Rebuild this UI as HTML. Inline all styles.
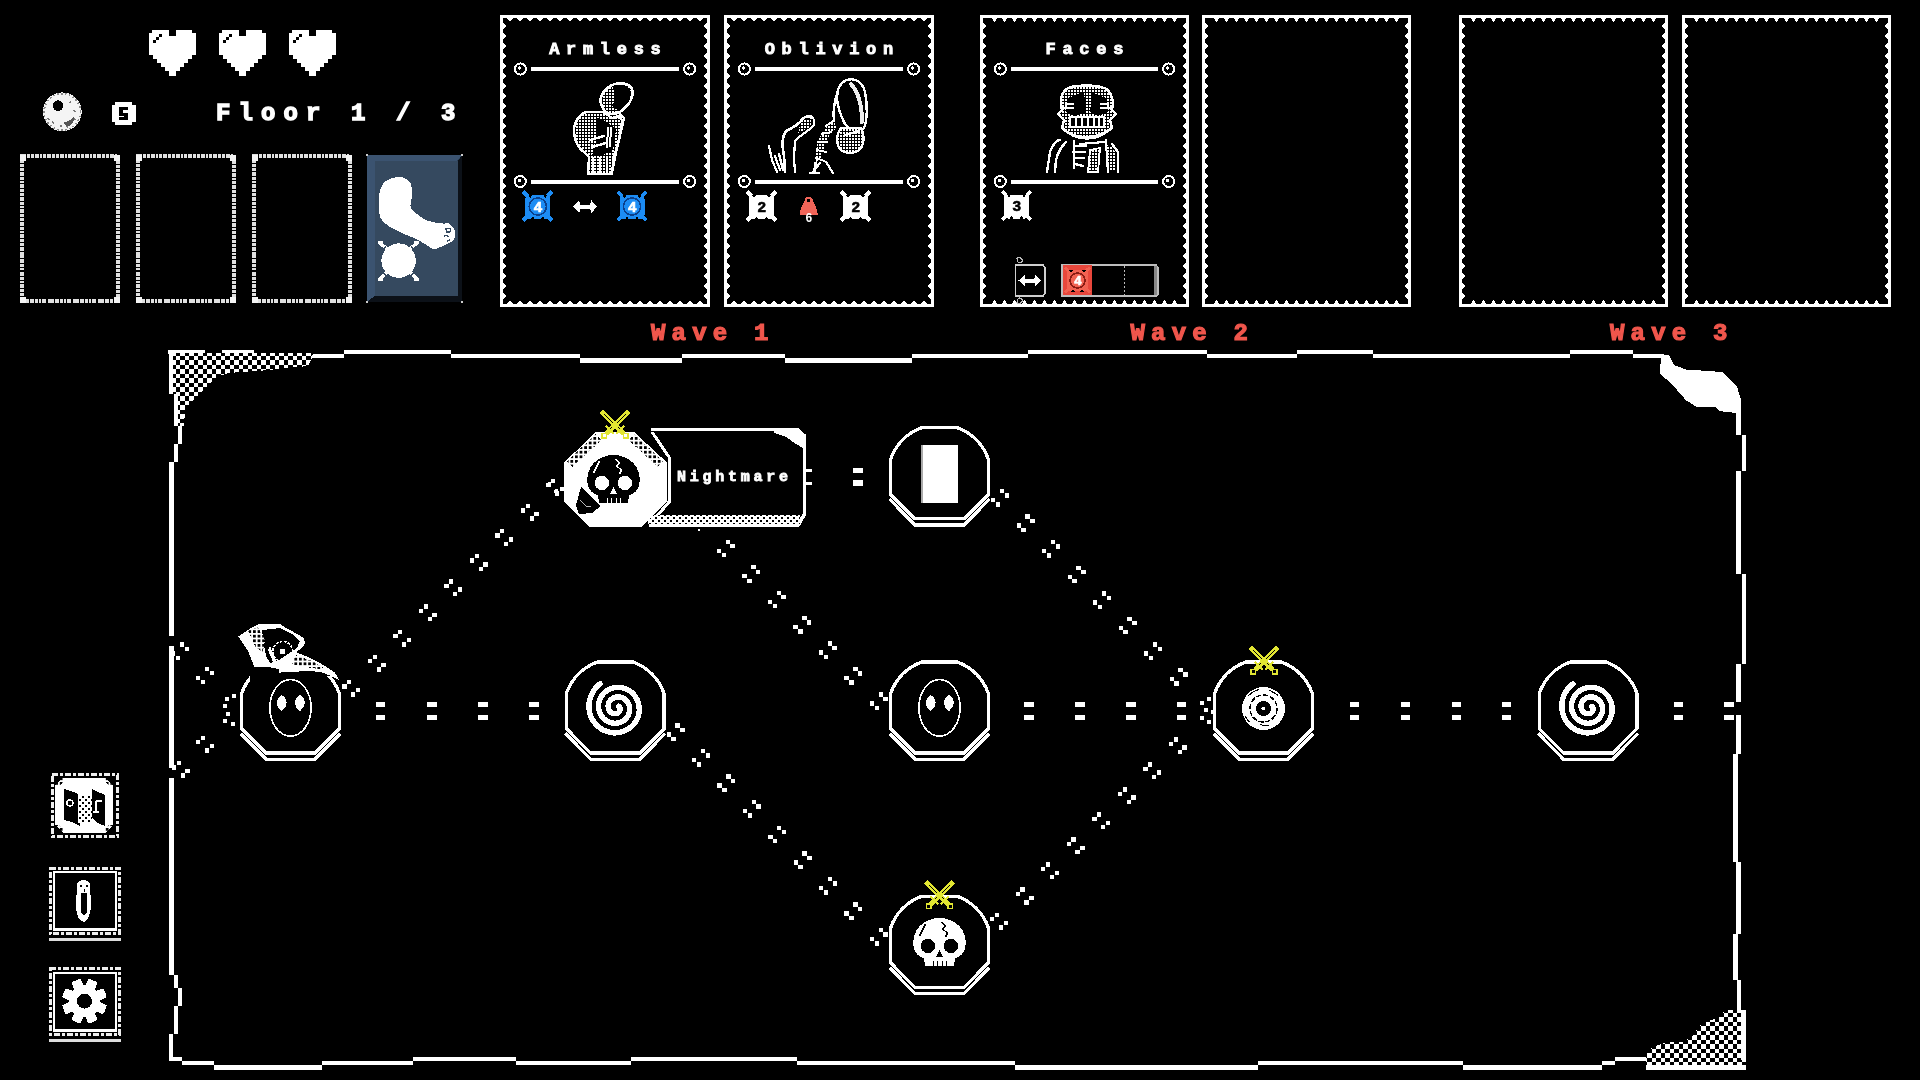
<!DOCTYPE html>
<html><head><meta charset="utf-8"><title>Map</title>
<style>
html,body{margin:0;padding:0;background:#000;width:1920px;height:1080px;overflow:hidden;}
svg{position:absolute;left:0;top:0;display:block;}
text{font-family:"Liberation Mono", monospace;}
svg{will-change:transform;}
</style></head>
<body>
<svg width="1920" height="1080" viewBox="0 0 1920 1080" shape-rendering="crispEdges">
<rect width="1920" height="1080" fill="#000"/>
<path d="M152.0,30.0 L168.5,30.0 L168.5,35.5 L175.5,35.5 L175.5,30.0 L192.0,30.0 L192.0,32.5 L196.0,32.5 L196.0,55.0 L192.0,55.0 L192.0,59.0 L188.0,59.0 L188.0,63.0 L184.0,63.0 L184.0,67.0 L180.0,67.0 L180.0,71.0 L176.0,71.0 L176.0,76.0 L169.0,76.0 L169.0,71.0 L165.0,71.0 L165.0,67.0 L161.0,67.0 L161.0,63.0 L157.0,63.0 L157.0,59.0 L153.0,59.0 L153.0,55.0 L149.0,55.0 L149.0,32.5 L152.0,32.5Z" fill="#fff"/>
<rect x="153.0" y="40.0" width="3.0" height="3.0" fill="#000" />
<rect x="156.0" y="37.0" width="3.0" height="3.0" fill="#000" />
<rect x="159.0" y="34.0" width="3.0" height="3.0" fill="#000" />
<path d="M222.0,30.0 L238.5,30.0 L238.5,35.5 L245.5,35.5 L245.5,30.0 L262.0,30.0 L262.0,32.5 L266.0,32.5 L266.0,55.0 L262.0,55.0 L262.0,59.0 L258.0,59.0 L258.0,63.0 L254.0,63.0 L254.0,67.0 L250.0,67.0 L250.0,71.0 L246.0,71.0 L246.0,76.0 L239.0,76.0 L239.0,71.0 L235.0,71.0 L235.0,67.0 L231.0,67.0 L231.0,63.0 L227.0,63.0 L227.0,59.0 L223.0,59.0 L223.0,55.0 L219.0,55.0 L219.0,32.5 L222.0,32.5Z" fill="#fff"/>
<rect x="223.0" y="40.0" width="3.0" height="3.0" fill="#000" />
<rect x="226.0" y="37.0" width="3.0" height="3.0" fill="#000" />
<rect x="229.0" y="34.0" width="3.0" height="3.0" fill="#000" />
<path d="M292.0,30.0 L308.5,30.0 L308.5,35.5 L315.5,35.5 L315.5,30.0 L332.0,30.0 L332.0,32.5 L336.0,32.5 L336.0,55.0 L332.0,55.0 L332.0,59.0 L328.0,59.0 L328.0,63.0 L324.0,63.0 L324.0,67.0 L320.0,67.0 L320.0,71.0 L316.0,71.0 L316.0,76.0 L309.0,76.0 L309.0,71.0 L305.0,71.0 L305.0,67.0 L301.0,67.0 L301.0,63.0 L297.0,63.0 L297.0,59.0 L293.0,59.0 L293.0,55.0 L289.0,55.0 L289.0,32.5 L292.0,32.5Z" fill="#fff"/>
<rect x="293.0" y="40.0" width="3.0" height="3.0" fill="#000" />
<rect x="296.0" y="37.0" width="3.0" height="3.0" fill="#000" />
<rect x="299.0" y="34.0" width="3.0" height="3.0" fill="#000" />
<circle cx="62.3" cy="111.8" r="19.4" fill="#f4f4f4"/>
<circle cx="62.3" cy="111.8" r="18.2" fill="none" stroke="#8a8a8a" stroke-width="1.8" stroke-dasharray="1.5 2.5"/>
<path d="M70,122 l2,2 M74,118 l1,2 M66,126 l2,1 M60,126 l2,0 M48,118 l1,2 M74,110 l1,2 M70,102 l1,1 M52,122 l2,1" stroke="#777" stroke-width="1.6"/>
<path d="M64,122 q6,0 10,-6 q1,6 -5,10 q-4,1 -5,-4z" fill="#555"/>
<circle cx="58" cy="105.6" r="5.3" fill="#000"/>
<path d="M115,102 H132 V105 H135.5 V121.5 H132 V124.7 H115 V121.5 H112 V105 H115 Z" fill="#fff"/>
<path d="M119,106.5 H127.5 V109.5 H122.5 V112.5 H127.5 V120 H119 V117 H124 V115.5 H119 Z" fill="#000"/>
<text x="216.0" y="120.4" font-family="Liberation Mono" font-size="24" font-weight="bold" fill="#fff" stroke="#fff" stroke-width="1.4" stroke-linejoin="miter" letter-spacing="8.1" text-anchor="start" >Floor 1 / 3</text>
<rect x="22.2" y="156.2" width="95.8" height="145.1" fill="none" stroke="#e0e0e0" stroke-width="3.8" stroke-dasharray="4 1 2.5 0.8 3 1.2"/>
<rect x="20.0" y="154.5" width="6.0" height="6.0" fill="#f4f4f4" />
<rect x="114.0" y="154.5" width="6.0" height="6.0" fill="#f4f4f4" />
<rect x="20.0" y="297.0" width="6.0" height="6.0" fill="#f4f4f4" />
<rect x="114.0" y="297.0" width="6.0" height="6.0" fill="#f4f4f4" />
<rect x="138.2" y="156.2" width="95.8" height="145.1" fill="none" stroke="#e0e0e0" stroke-width="3.8" stroke-dasharray="4 1 2.5 0.8 3 1.2"/>
<rect x="136.0" y="154.5" width="6.0" height="6.0" fill="#f4f4f4" />
<rect x="230.0" y="154.5" width="6.0" height="6.0" fill="#f4f4f4" />
<rect x="136.0" y="297.0" width="6.0" height="6.0" fill="#f4f4f4" />
<rect x="230.0" y="297.0" width="6.0" height="6.0" fill="#f4f4f4" />
<rect x="254.2" y="156.2" width="95.8" height="145.1" fill="none" stroke="#e0e0e0" stroke-width="3.8" stroke-dasharray="4 1 2.5 0.8 3 1.2"/>
<rect x="252.0" y="154.5" width="6.0" height="6.0" fill="#f4f4f4" />
<rect x="346.0" y="154.5" width="6.0" height="6.0" fill="#f4f4f4" />
<rect x="252.0" y="297.0" width="6.0" height="6.0" fill="#f4f4f4" />
<rect x="346.0" y="297.0" width="6.0" height="6.0" fill="#f4f4f4" />
<rect x="367" y="155" width="95" height="147" fill="#2c3f55"/>
<path d="M367,155 L462,155 L457,161 L374.5,161 L374.5,296 L367,302 Z" fill="#3b5370"/>
<rect x="374.5" y="161" width="83.5" height="135" fill="#35495f"/>
<path d="M458,161 L462,155 L462,302 L458,296 Z" fill="#0c1118"/>
<path d="M367,302 L374.5,296 L458,296 L462,302 Z" fill="#0c1118"/>
<circle cx="367" cy="155" r="1.5" fill="#ccc"/>
<circle cx="462" cy="155" r="1.5" fill="#ccc"/>
<circle cx="367" cy="302" r="1.5" fill="#ccc"/>
<circle cx="462" cy="302" r="1.5" fill="#ccc"/>
<path d="M396.7,177.0 C399.8,176.5 402.0,176.9 404.3,177.9 C406.6,178.9 409.2,180.3 410.5,183.2 C411.8,186.1 412.0,191.7 412.0,195.5 C412.0,199.3 410.0,203.4 410.5,206.2 C411.0,209.0 412.2,209.9 415.0,212.3 C417.8,214.7 422.7,218.6 427.3,220.5 C431.9,222.4 439.0,223.0 442.6,223.5 C446.2,224.0 446.7,222.3 448.7,223.5 C450.7,224.7 454.0,227.8 454.8,230.6 C455.6,233.3 455.0,237.7 453.5,240.0 C452.0,242.3 448.6,243.1 446.0,244.4 C443.4,245.7 440.1,247.2 438.0,248.0 C435.9,248.8 436.7,250.3 433.4,249.0 C430.1,247.7 424.1,243.1 418.0,240.0 C411.9,236.9 402.5,233.7 396.7,230.6 C390.9,227.5 385.9,224.8 383.0,221.5 C380.1,218.2 379.5,215.8 379.0,210.7 C378.5,205.6 378.7,195.8 379.9,190.9 C381.1,186.0 383.2,183.3 386.0,181.0 C388.8,178.7 393.6,177.5 396.7,177.0Z" fill="#fff"/>
<path d="M446,229 q3,-2 5,1 q-1,3 -4,2 z M444,236 q3,-1 5,1 M447,241 l3,-1" fill="none" stroke="#35495f" stroke-width="1.4"/>
<circle cx="398.6" cy="260.6" r="17.2" fill="#fff"/>
<path d="M380,243 L387,249 M417,243 L410,249 M380,279 L387,272 M417,279 L410,272" stroke="#fff" stroke-width="3.4"/>
<path d="M377.6,241 h5 v3 h-5z M414,241 h5 v3 h-5z M377.6,278 h5 v3 h-5z M414,278 h5 v3 h-5z" fill="#fff"/>
<path d="M386,246 q-3,3 -4,6 M411,246 q3,3 4,6 M382,270 q1,3 4,6 M415,270 q-1,3 -4,6" stroke="#35495f" stroke-width="1.2" fill="none"/>
<rect x="500.0" y="15.0" width="210.0" height="2.6" fill="#fff" />
<rect x="500.0" y="304.4" width="210.0" height="2.6" fill="#fff" />
<rect x="500.0" y="15.0" width="2.6" height="292.0" fill="#fff" />
<rect x="707.4" y="15.0" width="2.6" height="292.0" fill="#fff" />
<path d="M506.7,17.6L513.3,17.6L510.0,21.8ZM506.7,304.4L513.3,304.4L510.0,300.2ZM516.7,17.6L523.3,17.6L520.0,21.8ZM516.7,304.4L523.3,304.4L520.0,300.2ZM526.7,17.6L533.3,17.6L530.0,21.8ZM526.7,304.4L533.3,304.4L530.0,300.2ZM536.7,17.6L543.3,17.6L540.0,21.8ZM536.7,304.4L543.3,304.4L540.0,300.2ZM546.7,17.6L553.3,17.6L550.0,21.8ZM546.7,304.4L553.3,304.4L550.0,300.2ZM556.7,17.6L563.3,17.6L560.0,21.8ZM556.7,304.4L563.3,304.4L560.0,300.2ZM566.7,17.6L573.3,17.6L570.0,21.8ZM566.7,304.4L573.3,304.4L570.0,300.2ZM576.7,17.6L583.3,17.6L580.0,21.8ZM576.7,304.4L583.3,304.4L580.0,300.2ZM586.7,17.6L593.3,17.6L590.0,21.8ZM586.7,304.4L593.3,304.4L590.0,300.2ZM596.7,17.6L603.3,17.6L600.0,21.8ZM596.7,304.4L603.3,304.4L600.0,300.2ZM606.7,17.6L613.3,17.6L610.0,21.8ZM606.7,304.4L613.3,304.4L610.0,300.2ZM616.7,17.6L623.3,17.6L620.0,21.8ZM616.7,304.4L623.3,304.4L620.0,300.2ZM626.7,17.6L633.3,17.6L630.0,21.8ZM626.7,304.4L633.3,304.4L630.0,300.2ZM636.7,17.6L643.3,17.6L640.0,21.8ZM636.7,304.4L643.3,304.4L640.0,300.2ZM646.7,17.6L653.3,17.6L650.0,21.8ZM646.7,304.4L653.3,304.4L650.0,300.2ZM656.7,17.6L663.3,17.6L660.0,21.8ZM656.7,304.4L663.3,304.4L660.0,300.2ZM666.7,17.6L673.3,17.6L670.0,21.8ZM666.7,304.4L673.3,304.4L670.0,300.2ZM676.7,17.6L683.3,17.6L680.0,21.8ZM676.7,304.4L683.3,304.4L680.0,300.2ZM686.7,17.6L693.3,17.6L690.0,21.8ZM686.7,304.4L693.3,304.4L690.0,300.2ZM696.7,17.6L703.3,17.6L700.0,21.8ZM696.7,304.4L703.3,304.4L700.0,300.2ZM502.6,22.7L502.6,29.3L506.8,26.0ZM707.4,22.7L707.4,29.3L703.2,26.0ZM502.6,32.7L502.6,39.3L506.8,36.0ZM707.4,32.7L707.4,39.3L703.2,36.0ZM502.6,42.7L502.6,49.3L506.8,46.0ZM707.4,42.7L707.4,49.3L703.2,46.0ZM502.6,52.7L502.6,59.3L506.8,56.0ZM707.4,52.7L707.4,59.3L703.2,56.0ZM502.6,62.7L502.6,69.3L506.8,66.0ZM707.4,62.7L707.4,69.3L703.2,66.0ZM502.6,72.7L502.6,79.3L506.8,76.0ZM707.4,72.7L707.4,79.3L703.2,76.0ZM502.6,82.7L502.6,89.3L506.8,86.0ZM707.4,82.7L707.4,89.3L703.2,86.0ZM502.6,92.7L502.6,99.3L506.8,96.0ZM707.4,92.7L707.4,99.3L703.2,96.0ZM502.6,102.7L502.6,109.3L506.8,106.0ZM707.4,102.7L707.4,109.3L703.2,106.0ZM502.6,112.7L502.6,119.3L506.8,116.0ZM707.4,112.7L707.4,119.3L703.2,116.0ZM502.6,122.7L502.6,129.3L506.8,126.0ZM707.4,122.7L707.4,129.3L703.2,126.0ZM502.6,132.7L502.6,139.3L506.8,136.0ZM707.4,132.7L707.4,139.3L703.2,136.0ZM502.6,142.7L502.6,149.3L506.8,146.0ZM707.4,142.7L707.4,149.3L703.2,146.0ZM502.6,152.7L502.6,159.3L506.8,156.0ZM707.4,152.7L707.4,159.3L703.2,156.0ZM502.6,162.7L502.6,169.3L506.8,166.0ZM707.4,162.7L707.4,169.3L703.2,166.0ZM502.6,172.7L502.6,179.3L506.8,176.0ZM707.4,172.7L707.4,179.3L703.2,176.0ZM502.6,182.7L502.6,189.3L506.8,186.0ZM707.4,182.7L707.4,189.3L703.2,186.0ZM502.6,192.7L502.6,199.3L506.8,196.0ZM707.4,192.7L707.4,199.3L703.2,196.0ZM502.6,202.7L502.6,209.3L506.8,206.0ZM707.4,202.7L707.4,209.3L703.2,206.0ZM502.6,212.7L502.6,219.3L506.8,216.0ZM707.4,212.7L707.4,219.3L703.2,216.0ZM502.6,222.7L502.6,229.3L506.8,226.0ZM707.4,222.7L707.4,229.3L703.2,226.0ZM502.6,232.7L502.6,239.3L506.8,236.0ZM707.4,232.7L707.4,239.3L703.2,236.0ZM502.6,242.7L502.6,249.3L506.8,246.0ZM707.4,242.7L707.4,249.3L703.2,246.0ZM502.6,252.7L502.6,259.3L506.8,256.0ZM707.4,252.7L707.4,259.3L703.2,256.0ZM502.6,262.7L502.6,269.3L506.8,266.0ZM707.4,262.7L707.4,269.3L703.2,266.0ZM502.6,272.7L502.6,279.3L506.8,276.0ZM707.4,272.7L707.4,279.3L703.2,276.0ZM502.6,282.7L502.6,289.3L506.8,286.0ZM707.4,282.7L707.4,289.3L703.2,286.0ZM502.6,292.7L502.6,299.3L506.8,296.0ZM707.4,292.7L707.4,299.3L703.2,296.0Z" fill="#fff"/>
<rect x="724.0" y="15.0" width="210.0" height="2.6" fill="#fff" />
<rect x="724.0" y="304.4" width="210.0" height="2.6" fill="#fff" />
<rect x="724.0" y="15.0" width="2.6" height="292.0" fill="#fff" />
<rect x="931.4" y="15.0" width="2.6" height="292.0" fill="#fff" />
<path d="M730.7,17.6L737.3,17.6L734.0,21.8ZM730.7,304.4L737.3,304.4L734.0,300.2ZM740.7,17.6L747.3,17.6L744.0,21.8ZM740.7,304.4L747.3,304.4L744.0,300.2ZM750.7,17.6L757.3,17.6L754.0,21.8ZM750.7,304.4L757.3,304.4L754.0,300.2ZM760.7,17.6L767.3,17.6L764.0,21.8ZM760.7,304.4L767.3,304.4L764.0,300.2ZM770.7,17.6L777.3,17.6L774.0,21.8ZM770.7,304.4L777.3,304.4L774.0,300.2ZM780.7,17.6L787.3,17.6L784.0,21.8ZM780.7,304.4L787.3,304.4L784.0,300.2ZM790.7,17.6L797.3,17.6L794.0,21.8ZM790.7,304.4L797.3,304.4L794.0,300.2ZM800.7,17.6L807.3,17.6L804.0,21.8ZM800.7,304.4L807.3,304.4L804.0,300.2ZM810.7,17.6L817.3,17.6L814.0,21.8ZM810.7,304.4L817.3,304.4L814.0,300.2ZM820.7,17.6L827.3,17.6L824.0,21.8ZM820.7,304.4L827.3,304.4L824.0,300.2ZM830.7,17.6L837.3,17.6L834.0,21.8ZM830.7,304.4L837.3,304.4L834.0,300.2ZM840.7,17.6L847.3,17.6L844.0,21.8ZM840.7,304.4L847.3,304.4L844.0,300.2ZM850.7,17.6L857.3,17.6L854.0,21.8ZM850.7,304.4L857.3,304.4L854.0,300.2ZM860.7,17.6L867.3,17.6L864.0,21.8ZM860.7,304.4L867.3,304.4L864.0,300.2ZM870.7,17.6L877.3,17.6L874.0,21.8ZM870.7,304.4L877.3,304.4L874.0,300.2ZM880.7,17.6L887.3,17.6L884.0,21.8ZM880.7,304.4L887.3,304.4L884.0,300.2ZM890.7,17.6L897.3,17.6L894.0,21.8ZM890.7,304.4L897.3,304.4L894.0,300.2ZM900.7,17.6L907.3,17.6L904.0,21.8ZM900.7,304.4L907.3,304.4L904.0,300.2ZM910.7,17.6L917.3,17.6L914.0,21.8ZM910.7,304.4L917.3,304.4L914.0,300.2ZM920.7,17.6L927.3,17.6L924.0,21.8ZM920.7,304.4L927.3,304.4L924.0,300.2ZM726.6,22.7L726.6,29.3L730.8,26.0ZM931.4,22.7L931.4,29.3L927.2,26.0ZM726.6,32.7L726.6,39.3L730.8,36.0ZM931.4,32.7L931.4,39.3L927.2,36.0ZM726.6,42.7L726.6,49.3L730.8,46.0ZM931.4,42.7L931.4,49.3L927.2,46.0ZM726.6,52.7L726.6,59.3L730.8,56.0ZM931.4,52.7L931.4,59.3L927.2,56.0ZM726.6,62.7L726.6,69.3L730.8,66.0ZM931.4,62.7L931.4,69.3L927.2,66.0ZM726.6,72.7L726.6,79.3L730.8,76.0ZM931.4,72.7L931.4,79.3L927.2,76.0ZM726.6,82.7L726.6,89.3L730.8,86.0ZM931.4,82.7L931.4,89.3L927.2,86.0ZM726.6,92.7L726.6,99.3L730.8,96.0ZM931.4,92.7L931.4,99.3L927.2,96.0ZM726.6,102.7L726.6,109.3L730.8,106.0ZM931.4,102.7L931.4,109.3L927.2,106.0ZM726.6,112.7L726.6,119.3L730.8,116.0ZM931.4,112.7L931.4,119.3L927.2,116.0ZM726.6,122.7L726.6,129.3L730.8,126.0ZM931.4,122.7L931.4,129.3L927.2,126.0ZM726.6,132.7L726.6,139.3L730.8,136.0ZM931.4,132.7L931.4,139.3L927.2,136.0ZM726.6,142.7L726.6,149.3L730.8,146.0ZM931.4,142.7L931.4,149.3L927.2,146.0ZM726.6,152.7L726.6,159.3L730.8,156.0ZM931.4,152.7L931.4,159.3L927.2,156.0ZM726.6,162.7L726.6,169.3L730.8,166.0ZM931.4,162.7L931.4,169.3L927.2,166.0ZM726.6,172.7L726.6,179.3L730.8,176.0ZM931.4,172.7L931.4,179.3L927.2,176.0ZM726.6,182.7L726.6,189.3L730.8,186.0ZM931.4,182.7L931.4,189.3L927.2,186.0ZM726.6,192.7L726.6,199.3L730.8,196.0ZM931.4,192.7L931.4,199.3L927.2,196.0ZM726.6,202.7L726.6,209.3L730.8,206.0ZM931.4,202.7L931.4,209.3L927.2,206.0ZM726.6,212.7L726.6,219.3L730.8,216.0ZM931.4,212.7L931.4,219.3L927.2,216.0ZM726.6,222.7L726.6,229.3L730.8,226.0ZM931.4,222.7L931.4,229.3L927.2,226.0ZM726.6,232.7L726.6,239.3L730.8,236.0ZM931.4,232.7L931.4,239.3L927.2,236.0ZM726.6,242.7L726.6,249.3L730.8,246.0ZM931.4,242.7L931.4,249.3L927.2,246.0ZM726.6,252.7L726.6,259.3L730.8,256.0ZM931.4,252.7L931.4,259.3L927.2,256.0ZM726.6,262.7L726.6,269.3L730.8,266.0ZM931.4,262.7L931.4,269.3L927.2,266.0ZM726.6,272.7L726.6,279.3L730.8,276.0ZM931.4,272.7L931.4,279.3L927.2,276.0ZM726.6,282.7L726.6,289.3L730.8,286.0ZM931.4,282.7L931.4,289.3L927.2,286.0ZM726.6,292.7L726.6,299.3L730.8,296.0ZM931.4,292.7L931.4,299.3L927.2,296.0Z" fill="#fff"/>
<rect x="980.0" y="15.0" width="209.0" height="2.6" fill="#fff" />
<rect x="980.0" y="304.4" width="209.0" height="2.6" fill="#fff" />
<rect x="980.0" y="15.0" width="2.6" height="292.0" fill="#fff" />
<rect x="1186.4" y="15.0" width="2.6" height="292.0" fill="#fff" />
<path d="M991.2,17.6L997.8,17.6L994.5,21.8ZM991.2,304.4L997.8,304.4L994.5,300.2ZM1001.2,17.6L1007.8,17.6L1004.5,21.8ZM1001.2,304.4L1007.8,304.4L1004.5,300.2ZM1011.2,17.6L1017.8,17.6L1014.5,21.8ZM1011.2,304.4L1017.8,304.4L1014.5,300.2ZM1021.2,17.6L1027.8,17.6L1024.5,21.8ZM1021.2,304.4L1027.8,304.4L1024.5,300.2ZM1031.2,17.6L1037.8,17.6L1034.5,21.8ZM1031.2,304.4L1037.8,304.4L1034.5,300.2ZM1041.2,17.6L1047.8,17.6L1044.5,21.8ZM1041.2,304.4L1047.8,304.4L1044.5,300.2ZM1051.2,17.6L1057.8,17.6L1054.5,21.8ZM1051.2,304.4L1057.8,304.4L1054.5,300.2ZM1061.2,17.6L1067.8,17.6L1064.5,21.8ZM1061.2,304.4L1067.8,304.4L1064.5,300.2ZM1071.2,17.6L1077.8,17.6L1074.5,21.8ZM1071.2,304.4L1077.8,304.4L1074.5,300.2ZM1081.2,17.6L1087.8,17.6L1084.5,21.8ZM1081.2,304.4L1087.8,304.4L1084.5,300.2ZM1091.2,17.6L1097.8,17.6L1094.5,21.8ZM1091.2,304.4L1097.8,304.4L1094.5,300.2ZM1101.2,17.6L1107.8,17.6L1104.5,21.8ZM1101.2,304.4L1107.8,304.4L1104.5,300.2ZM1111.2,17.6L1117.8,17.6L1114.5,21.8ZM1111.2,304.4L1117.8,304.4L1114.5,300.2ZM1121.2,17.6L1127.8,17.6L1124.5,21.8ZM1121.2,304.4L1127.8,304.4L1124.5,300.2ZM1131.2,17.6L1137.8,17.6L1134.5,21.8ZM1131.2,304.4L1137.8,304.4L1134.5,300.2ZM1141.2,17.6L1147.8,17.6L1144.5,21.8ZM1141.2,304.4L1147.8,304.4L1144.5,300.2ZM1151.2,17.6L1157.8,17.6L1154.5,21.8ZM1151.2,304.4L1157.8,304.4L1154.5,300.2ZM1161.2,17.6L1167.8,17.6L1164.5,21.8ZM1161.2,304.4L1167.8,304.4L1164.5,300.2ZM1171.2,17.6L1177.8,17.6L1174.5,21.8ZM1171.2,304.4L1177.8,304.4L1174.5,300.2ZM982.6,22.7L982.6,29.3L986.8,26.0ZM1186.4,22.7L1186.4,29.3L1182.2,26.0ZM982.6,32.7L982.6,39.3L986.8,36.0ZM1186.4,32.7L1186.4,39.3L1182.2,36.0ZM982.6,42.7L982.6,49.3L986.8,46.0ZM1186.4,42.7L1186.4,49.3L1182.2,46.0ZM982.6,52.7L982.6,59.3L986.8,56.0ZM1186.4,52.7L1186.4,59.3L1182.2,56.0ZM982.6,62.7L982.6,69.3L986.8,66.0ZM1186.4,62.7L1186.4,69.3L1182.2,66.0ZM982.6,72.7L982.6,79.3L986.8,76.0ZM1186.4,72.7L1186.4,79.3L1182.2,76.0ZM982.6,82.7L982.6,89.3L986.8,86.0ZM1186.4,82.7L1186.4,89.3L1182.2,86.0ZM982.6,92.7L982.6,99.3L986.8,96.0ZM1186.4,92.7L1186.4,99.3L1182.2,96.0ZM982.6,102.7L982.6,109.3L986.8,106.0ZM1186.4,102.7L1186.4,109.3L1182.2,106.0ZM982.6,112.7L982.6,119.3L986.8,116.0ZM1186.4,112.7L1186.4,119.3L1182.2,116.0ZM982.6,122.7L982.6,129.3L986.8,126.0ZM1186.4,122.7L1186.4,129.3L1182.2,126.0ZM982.6,132.7L982.6,139.3L986.8,136.0ZM1186.4,132.7L1186.4,139.3L1182.2,136.0ZM982.6,142.7L982.6,149.3L986.8,146.0ZM1186.4,142.7L1186.4,149.3L1182.2,146.0ZM982.6,152.7L982.6,159.3L986.8,156.0ZM1186.4,152.7L1186.4,159.3L1182.2,156.0ZM982.6,162.7L982.6,169.3L986.8,166.0ZM1186.4,162.7L1186.4,169.3L1182.2,166.0ZM982.6,172.7L982.6,179.3L986.8,176.0ZM1186.4,172.7L1186.4,179.3L1182.2,176.0ZM982.6,182.7L982.6,189.3L986.8,186.0ZM1186.4,182.7L1186.4,189.3L1182.2,186.0ZM982.6,192.7L982.6,199.3L986.8,196.0ZM1186.4,192.7L1186.4,199.3L1182.2,196.0ZM982.6,202.7L982.6,209.3L986.8,206.0ZM1186.4,202.7L1186.4,209.3L1182.2,206.0ZM982.6,212.7L982.6,219.3L986.8,216.0ZM1186.4,212.7L1186.4,219.3L1182.2,216.0ZM982.6,222.7L982.6,229.3L986.8,226.0ZM1186.4,222.7L1186.4,229.3L1182.2,226.0ZM982.6,232.7L982.6,239.3L986.8,236.0ZM1186.4,232.7L1186.4,239.3L1182.2,236.0ZM982.6,242.7L982.6,249.3L986.8,246.0ZM1186.4,242.7L1186.4,249.3L1182.2,246.0ZM982.6,252.7L982.6,259.3L986.8,256.0ZM1186.4,252.7L1186.4,259.3L1182.2,256.0ZM982.6,262.7L982.6,269.3L986.8,266.0ZM1186.4,262.7L1186.4,269.3L1182.2,266.0ZM982.6,272.7L982.6,279.3L986.8,276.0ZM1186.4,272.7L1186.4,279.3L1182.2,276.0ZM982.6,282.7L982.6,289.3L986.8,286.0ZM1186.4,282.7L1186.4,289.3L1182.2,286.0ZM982.6,292.7L982.6,299.3L986.8,296.0ZM1186.4,292.7L1186.4,299.3L1182.2,296.0Z" fill="#fff"/>
<rect x="1202.0" y="15.0" width="209.0" height="2.6" fill="#fff" />
<rect x="1202.0" y="304.4" width="209.0" height="2.6" fill="#fff" />
<rect x="1202.0" y="15.0" width="2.6" height="292.0" fill="#fff" />
<rect x="1408.4" y="15.0" width="2.6" height="292.0" fill="#fff" />
<path d="M1213.2,17.6L1219.8,17.6L1216.5,21.8ZM1213.2,304.4L1219.8,304.4L1216.5,300.2ZM1223.2,17.6L1229.8,17.6L1226.5,21.8ZM1223.2,304.4L1229.8,304.4L1226.5,300.2ZM1233.2,17.6L1239.8,17.6L1236.5,21.8ZM1233.2,304.4L1239.8,304.4L1236.5,300.2ZM1243.2,17.6L1249.8,17.6L1246.5,21.8ZM1243.2,304.4L1249.8,304.4L1246.5,300.2ZM1253.2,17.6L1259.8,17.6L1256.5,21.8ZM1253.2,304.4L1259.8,304.4L1256.5,300.2ZM1263.2,17.6L1269.8,17.6L1266.5,21.8ZM1263.2,304.4L1269.8,304.4L1266.5,300.2ZM1273.2,17.6L1279.8,17.6L1276.5,21.8ZM1273.2,304.4L1279.8,304.4L1276.5,300.2ZM1283.2,17.6L1289.8,17.6L1286.5,21.8ZM1283.2,304.4L1289.8,304.4L1286.5,300.2ZM1293.2,17.6L1299.8,17.6L1296.5,21.8ZM1293.2,304.4L1299.8,304.4L1296.5,300.2ZM1303.2,17.6L1309.8,17.6L1306.5,21.8ZM1303.2,304.4L1309.8,304.4L1306.5,300.2ZM1313.2,17.6L1319.8,17.6L1316.5,21.8ZM1313.2,304.4L1319.8,304.4L1316.5,300.2ZM1323.2,17.6L1329.8,17.6L1326.5,21.8ZM1323.2,304.4L1329.8,304.4L1326.5,300.2ZM1333.2,17.6L1339.8,17.6L1336.5,21.8ZM1333.2,304.4L1339.8,304.4L1336.5,300.2ZM1343.2,17.6L1349.8,17.6L1346.5,21.8ZM1343.2,304.4L1349.8,304.4L1346.5,300.2ZM1353.2,17.6L1359.8,17.6L1356.5,21.8ZM1353.2,304.4L1359.8,304.4L1356.5,300.2ZM1363.2,17.6L1369.8,17.6L1366.5,21.8ZM1363.2,304.4L1369.8,304.4L1366.5,300.2ZM1373.2,17.6L1379.8,17.6L1376.5,21.8ZM1373.2,304.4L1379.8,304.4L1376.5,300.2ZM1383.2,17.6L1389.8,17.6L1386.5,21.8ZM1383.2,304.4L1389.8,304.4L1386.5,300.2ZM1393.2,17.6L1399.8,17.6L1396.5,21.8ZM1393.2,304.4L1399.8,304.4L1396.5,300.2ZM1204.6,22.7L1204.6,29.3L1208.8,26.0ZM1408.4,22.7L1408.4,29.3L1404.2,26.0ZM1204.6,32.7L1204.6,39.3L1208.8,36.0ZM1408.4,32.7L1408.4,39.3L1404.2,36.0ZM1204.6,42.7L1204.6,49.3L1208.8,46.0ZM1408.4,42.7L1408.4,49.3L1404.2,46.0ZM1204.6,52.7L1204.6,59.3L1208.8,56.0ZM1408.4,52.7L1408.4,59.3L1404.2,56.0ZM1204.6,62.7L1204.6,69.3L1208.8,66.0ZM1408.4,62.7L1408.4,69.3L1404.2,66.0ZM1204.6,72.7L1204.6,79.3L1208.8,76.0ZM1408.4,72.7L1408.4,79.3L1404.2,76.0ZM1204.6,82.7L1204.6,89.3L1208.8,86.0ZM1408.4,82.7L1408.4,89.3L1404.2,86.0ZM1204.6,92.7L1204.6,99.3L1208.8,96.0ZM1408.4,92.7L1408.4,99.3L1404.2,96.0ZM1204.6,102.7L1204.6,109.3L1208.8,106.0ZM1408.4,102.7L1408.4,109.3L1404.2,106.0ZM1204.6,112.7L1204.6,119.3L1208.8,116.0ZM1408.4,112.7L1408.4,119.3L1404.2,116.0ZM1204.6,122.7L1204.6,129.3L1208.8,126.0ZM1408.4,122.7L1408.4,129.3L1404.2,126.0ZM1204.6,132.7L1204.6,139.3L1208.8,136.0ZM1408.4,132.7L1408.4,139.3L1404.2,136.0ZM1204.6,142.7L1204.6,149.3L1208.8,146.0ZM1408.4,142.7L1408.4,149.3L1404.2,146.0ZM1204.6,152.7L1204.6,159.3L1208.8,156.0ZM1408.4,152.7L1408.4,159.3L1404.2,156.0ZM1204.6,162.7L1204.6,169.3L1208.8,166.0ZM1408.4,162.7L1408.4,169.3L1404.2,166.0ZM1204.6,172.7L1204.6,179.3L1208.8,176.0ZM1408.4,172.7L1408.4,179.3L1404.2,176.0ZM1204.6,182.7L1204.6,189.3L1208.8,186.0ZM1408.4,182.7L1408.4,189.3L1404.2,186.0ZM1204.6,192.7L1204.6,199.3L1208.8,196.0ZM1408.4,192.7L1408.4,199.3L1404.2,196.0ZM1204.6,202.7L1204.6,209.3L1208.8,206.0ZM1408.4,202.7L1408.4,209.3L1404.2,206.0ZM1204.6,212.7L1204.6,219.3L1208.8,216.0ZM1408.4,212.7L1408.4,219.3L1404.2,216.0ZM1204.6,222.7L1204.6,229.3L1208.8,226.0ZM1408.4,222.7L1408.4,229.3L1404.2,226.0ZM1204.6,232.7L1204.6,239.3L1208.8,236.0ZM1408.4,232.7L1408.4,239.3L1404.2,236.0ZM1204.6,242.7L1204.6,249.3L1208.8,246.0ZM1408.4,242.7L1408.4,249.3L1404.2,246.0ZM1204.6,252.7L1204.6,259.3L1208.8,256.0ZM1408.4,252.7L1408.4,259.3L1404.2,256.0ZM1204.6,262.7L1204.6,269.3L1208.8,266.0ZM1408.4,262.7L1408.4,269.3L1404.2,266.0ZM1204.6,272.7L1204.6,279.3L1208.8,276.0ZM1408.4,272.7L1408.4,279.3L1404.2,276.0ZM1204.6,282.7L1204.6,289.3L1208.8,286.0ZM1408.4,282.7L1408.4,289.3L1404.2,286.0ZM1204.6,292.7L1204.6,299.3L1208.8,296.0ZM1408.4,292.7L1408.4,299.3L1404.2,296.0Z" fill="#fff"/>
<rect x="1459.0" y="15.0" width="209.0" height="2.6" fill="#fff" />
<rect x="1459.0" y="304.4" width="209.0" height="2.6" fill="#fff" />
<rect x="1459.0" y="15.0" width="2.6" height="292.0" fill="#fff" />
<rect x="1665.4" y="15.0" width="2.6" height="292.0" fill="#fff" />
<path d="M1470.2,17.6L1476.8,17.6L1473.5,21.8ZM1470.2,304.4L1476.8,304.4L1473.5,300.2ZM1480.2,17.6L1486.8,17.6L1483.5,21.8ZM1480.2,304.4L1486.8,304.4L1483.5,300.2ZM1490.2,17.6L1496.8,17.6L1493.5,21.8ZM1490.2,304.4L1496.8,304.4L1493.5,300.2ZM1500.2,17.6L1506.8,17.6L1503.5,21.8ZM1500.2,304.4L1506.8,304.4L1503.5,300.2ZM1510.2,17.6L1516.8,17.6L1513.5,21.8ZM1510.2,304.4L1516.8,304.4L1513.5,300.2ZM1520.2,17.6L1526.8,17.6L1523.5,21.8ZM1520.2,304.4L1526.8,304.4L1523.5,300.2ZM1530.2,17.6L1536.8,17.6L1533.5,21.8ZM1530.2,304.4L1536.8,304.4L1533.5,300.2ZM1540.2,17.6L1546.8,17.6L1543.5,21.8ZM1540.2,304.4L1546.8,304.4L1543.5,300.2ZM1550.2,17.6L1556.8,17.6L1553.5,21.8ZM1550.2,304.4L1556.8,304.4L1553.5,300.2ZM1560.2,17.6L1566.8,17.6L1563.5,21.8ZM1560.2,304.4L1566.8,304.4L1563.5,300.2ZM1570.2,17.6L1576.8,17.6L1573.5,21.8ZM1570.2,304.4L1576.8,304.4L1573.5,300.2ZM1580.2,17.6L1586.8,17.6L1583.5,21.8ZM1580.2,304.4L1586.8,304.4L1583.5,300.2ZM1590.2,17.6L1596.8,17.6L1593.5,21.8ZM1590.2,304.4L1596.8,304.4L1593.5,300.2ZM1600.2,17.6L1606.8,17.6L1603.5,21.8ZM1600.2,304.4L1606.8,304.4L1603.5,300.2ZM1610.2,17.6L1616.8,17.6L1613.5,21.8ZM1610.2,304.4L1616.8,304.4L1613.5,300.2ZM1620.2,17.6L1626.8,17.6L1623.5,21.8ZM1620.2,304.4L1626.8,304.4L1623.5,300.2ZM1630.2,17.6L1636.8,17.6L1633.5,21.8ZM1630.2,304.4L1636.8,304.4L1633.5,300.2ZM1640.2,17.6L1646.8,17.6L1643.5,21.8ZM1640.2,304.4L1646.8,304.4L1643.5,300.2ZM1650.2,17.6L1656.8,17.6L1653.5,21.8ZM1650.2,304.4L1656.8,304.4L1653.5,300.2ZM1461.6,22.7L1461.6,29.3L1465.8,26.0ZM1665.4,22.7L1665.4,29.3L1661.2,26.0ZM1461.6,32.7L1461.6,39.3L1465.8,36.0ZM1665.4,32.7L1665.4,39.3L1661.2,36.0ZM1461.6,42.7L1461.6,49.3L1465.8,46.0ZM1665.4,42.7L1665.4,49.3L1661.2,46.0ZM1461.6,52.7L1461.6,59.3L1465.8,56.0ZM1665.4,52.7L1665.4,59.3L1661.2,56.0ZM1461.6,62.7L1461.6,69.3L1465.8,66.0ZM1665.4,62.7L1665.4,69.3L1661.2,66.0ZM1461.6,72.7L1461.6,79.3L1465.8,76.0ZM1665.4,72.7L1665.4,79.3L1661.2,76.0ZM1461.6,82.7L1461.6,89.3L1465.8,86.0ZM1665.4,82.7L1665.4,89.3L1661.2,86.0ZM1461.6,92.7L1461.6,99.3L1465.8,96.0ZM1665.4,92.7L1665.4,99.3L1661.2,96.0ZM1461.6,102.7L1461.6,109.3L1465.8,106.0ZM1665.4,102.7L1665.4,109.3L1661.2,106.0ZM1461.6,112.7L1461.6,119.3L1465.8,116.0ZM1665.4,112.7L1665.4,119.3L1661.2,116.0ZM1461.6,122.7L1461.6,129.3L1465.8,126.0ZM1665.4,122.7L1665.4,129.3L1661.2,126.0ZM1461.6,132.7L1461.6,139.3L1465.8,136.0ZM1665.4,132.7L1665.4,139.3L1661.2,136.0ZM1461.6,142.7L1461.6,149.3L1465.8,146.0ZM1665.4,142.7L1665.4,149.3L1661.2,146.0ZM1461.6,152.7L1461.6,159.3L1465.8,156.0ZM1665.4,152.7L1665.4,159.3L1661.2,156.0ZM1461.6,162.7L1461.6,169.3L1465.8,166.0ZM1665.4,162.7L1665.4,169.3L1661.2,166.0ZM1461.6,172.7L1461.6,179.3L1465.8,176.0ZM1665.4,172.7L1665.4,179.3L1661.2,176.0ZM1461.6,182.7L1461.6,189.3L1465.8,186.0ZM1665.4,182.7L1665.4,189.3L1661.2,186.0ZM1461.6,192.7L1461.6,199.3L1465.8,196.0ZM1665.4,192.7L1665.4,199.3L1661.2,196.0ZM1461.6,202.7L1461.6,209.3L1465.8,206.0ZM1665.4,202.7L1665.4,209.3L1661.2,206.0ZM1461.6,212.7L1461.6,219.3L1465.8,216.0ZM1665.4,212.7L1665.4,219.3L1661.2,216.0ZM1461.6,222.7L1461.6,229.3L1465.8,226.0ZM1665.4,222.7L1665.4,229.3L1661.2,226.0ZM1461.6,232.7L1461.6,239.3L1465.8,236.0ZM1665.4,232.7L1665.4,239.3L1661.2,236.0ZM1461.6,242.7L1461.6,249.3L1465.8,246.0ZM1665.4,242.7L1665.4,249.3L1661.2,246.0ZM1461.6,252.7L1461.6,259.3L1465.8,256.0ZM1665.4,252.7L1665.4,259.3L1661.2,256.0ZM1461.6,262.7L1461.6,269.3L1465.8,266.0ZM1665.4,262.7L1665.4,269.3L1661.2,266.0ZM1461.6,272.7L1461.6,279.3L1465.8,276.0ZM1665.4,272.7L1665.4,279.3L1661.2,276.0ZM1461.6,282.7L1461.6,289.3L1465.8,286.0ZM1665.4,282.7L1665.4,289.3L1661.2,286.0ZM1461.6,292.7L1461.6,299.3L1465.8,296.0ZM1665.4,292.7L1665.4,299.3L1661.2,296.0Z" fill="#fff"/>
<rect x="1682.0" y="15.0" width="209.0" height="2.6" fill="#fff" />
<rect x="1682.0" y="304.4" width="209.0" height="2.6" fill="#fff" />
<rect x="1682.0" y="15.0" width="2.6" height="292.0" fill="#fff" />
<rect x="1888.4" y="15.0" width="2.6" height="292.0" fill="#fff" />
<path d="M1693.2,17.6L1699.8,17.6L1696.5,21.8ZM1693.2,304.4L1699.8,304.4L1696.5,300.2ZM1703.2,17.6L1709.8,17.6L1706.5,21.8ZM1703.2,304.4L1709.8,304.4L1706.5,300.2ZM1713.2,17.6L1719.8,17.6L1716.5,21.8ZM1713.2,304.4L1719.8,304.4L1716.5,300.2ZM1723.2,17.6L1729.8,17.6L1726.5,21.8ZM1723.2,304.4L1729.8,304.4L1726.5,300.2ZM1733.2,17.6L1739.8,17.6L1736.5,21.8ZM1733.2,304.4L1739.8,304.4L1736.5,300.2ZM1743.2,17.6L1749.8,17.6L1746.5,21.8ZM1743.2,304.4L1749.8,304.4L1746.5,300.2ZM1753.2,17.6L1759.8,17.6L1756.5,21.8ZM1753.2,304.4L1759.8,304.4L1756.5,300.2ZM1763.2,17.6L1769.8,17.6L1766.5,21.8ZM1763.2,304.4L1769.8,304.4L1766.5,300.2ZM1773.2,17.6L1779.8,17.6L1776.5,21.8ZM1773.2,304.4L1779.8,304.4L1776.5,300.2ZM1783.2,17.6L1789.8,17.6L1786.5,21.8ZM1783.2,304.4L1789.8,304.4L1786.5,300.2ZM1793.2,17.6L1799.8,17.6L1796.5,21.8ZM1793.2,304.4L1799.8,304.4L1796.5,300.2ZM1803.2,17.6L1809.8,17.6L1806.5,21.8ZM1803.2,304.4L1809.8,304.4L1806.5,300.2ZM1813.2,17.6L1819.8,17.6L1816.5,21.8ZM1813.2,304.4L1819.8,304.4L1816.5,300.2ZM1823.2,17.6L1829.8,17.6L1826.5,21.8ZM1823.2,304.4L1829.8,304.4L1826.5,300.2ZM1833.2,17.6L1839.8,17.6L1836.5,21.8ZM1833.2,304.4L1839.8,304.4L1836.5,300.2ZM1843.2,17.6L1849.8,17.6L1846.5,21.8ZM1843.2,304.4L1849.8,304.4L1846.5,300.2ZM1853.2,17.6L1859.8,17.6L1856.5,21.8ZM1853.2,304.4L1859.8,304.4L1856.5,300.2ZM1863.2,17.6L1869.8,17.6L1866.5,21.8ZM1863.2,304.4L1869.8,304.4L1866.5,300.2ZM1873.2,17.6L1879.8,17.6L1876.5,21.8ZM1873.2,304.4L1879.8,304.4L1876.5,300.2ZM1684.6,22.7L1684.6,29.3L1688.8,26.0ZM1888.4,22.7L1888.4,29.3L1884.2,26.0ZM1684.6,32.7L1684.6,39.3L1688.8,36.0ZM1888.4,32.7L1888.4,39.3L1884.2,36.0ZM1684.6,42.7L1684.6,49.3L1688.8,46.0ZM1888.4,42.7L1888.4,49.3L1884.2,46.0ZM1684.6,52.7L1684.6,59.3L1688.8,56.0ZM1888.4,52.7L1888.4,59.3L1884.2,56.0ZM1684.6,62.7L1684.6,69.3L1688.8,66.0ZM1888.4,62.7L1888.4,69.3L1884.2,66.0ZM1684.6,72.7L1684.6,79.3L1688.8,76.0ZM1888.4,72.7L1888.4,79.3L1884.2,76.0ZM1684.6,82.7L1684.6,89.3L1688.8,86.0ZM1888.4,82.7L1888.4,89.3L1884.2,86.0ZM1684.6,92.7L1684.6,99.3L1688.8,96.0ZM1888.4,92.7L1888.4,99.3L1884.2,96.0ZM1684.6,102.7L1684.6,109.3L1688.8,106.0ZM1888.4,102.7L1888.4,109.3L1884.2,106.0ZM1684.6,112.7L1684.6,119.3L1688.8,116.0ZM1888.4,112.7L1888.4,119.3L1884.2,116.0ZM1684.6,122.7L1684.6,129.3L1688.8,126.0ZM1888.4,122.7L1888.4,129.3L1884.2,126.0ZM1684.6,132.7L1684.6,139.3L1688.8,136.0ZM1888.4,132.7L1888.4,139.3L1884.2,136.0ZM1684.6,142.7L1684.6,149.3L1688.8,146.0ZM1888.4,142.7L1888.4,149.3L1884.2,146.0ZM1684.6,152.7L1684.6,159.3L1688.8,156.0ZM1888.4,152.7L1888.4,159.3L1884.2,156.0ZM1684.6,162.7L1684.6,169.3L1688.8,166.0ZM1888.4,162.7L1888.4,169.3L1884.2,166.0ZM1684.6,172.7L1684.6,179.3L1688.8,176.0ZM1888.4,172.7L1888.4,179.3L1884.2,176.0ZM1684.6,182.7L1684.6,189.3L1688.8,186.0ZM1888.4,182.7L1888.4,189.3L1884.2,186.0ZM1684.6,192.7L1684.6,199.3L1688.8,196.0ZM1888.4,192.7L1888.4,199.3L1884.2,196.0ZM1684.6,202.7L1684.6,209.3L1688.8,206.0ZM1888.4,202.7L1888.4,209.3L1884.2,206.0ZM1684.6,212.7L1684.6,219.3L1688.8,216.0ZM1888.4,212.7L1888.4,219.3L1884.2,216.0ZM1684.6,222.7L1684.6,229.3L1688.8,226.0ZM1888.4,222.7L1888.4,229.3L1884.2,226.0ZM1684.6,232.7L1684.6,239.3L1688.8,236.0ZM1888.4,232.7L1888.4,239.3L1884.2,236.0ZM1684.6,242.7L1684.6,249.3L1688.8,246.0ZM1888.4,242.7L1888.4,249.3L1884.2,246.0ZM1684.6,252.7L1684.6,259.3L1688.8,256.0ZM1888.4,252.7L1888.4,259.3L1884.2,256.0ZM1684.6,262.7L1684.6,269.3L1688.8,266.0ZM1888.4,262.7L1888.4,269.3L1884.2,266.0ZM1684.6,272.7L1684.6,279.3L1688.8,276.0ZM1888.4,272.7L1888.4,279.3L1884.2,276.0ZM1684.6,282.7L1684.6,289.3L1688.8,286.0ZM1888.4,282.7L1888.4,289.3L1884.2,286.0ZM1684.6,292.7L1684.6,299.3L1688.8,296.0ZM1888.4,292.7L1888.4,299.3L1884.2,296.0Z" fill="#fff"/>
<text x="608.3" y="53.5" font-family="Liberation Mono" font-size="17" font-weight="bold" fill="#fff" stroke="#fff" stroke-width="0.9" stroke-linejoin="miter" letter-spacing="6.7" text-anchor="middle" >Armless</text>
<circle cx="520.3" cy="69.0" r="5.6" fill="none" stroke="#fff" stroke-width="2"/>
<circle cx="519.3" cy="68.0" r="1.6" fill="#fff"/>
<circle cx="689.7" cy="69.0" r="5.6" fill="none" stroke="#fff" stroke-width="2"/>
<circle cx="688.7" cy="68.0" r="1.6" fill="#fff"/>
<rect x="531.3" y="67.0" width="147.4" height="4.0" fill="#fff" />
<circle cx="520.3" cy="181.5" r="5.6" fill="none" stroke="#fff" stroke-width="2"/>
<circle cx="519.3" cy="180.5" r="1.6" fill="#fff"/>
<circle cx="689.7" cy="181.5" r="5.6" fill="none" stroke="#fff" stroke-width="2"/>
<circle cx="688.7" cy="180.5" r="1.6" fill="#fff"/>
<rect x="531.3" y="179.5" width="147.4" height="4.0" fill="#fff" />
<text x="832.3" y="53.5" font-family="Liberation Mono" font-size="17" font-weight="bold" fill="#fff" stroke="#fff" stroke-width="0.9" stroke-linejoin="miter" letter-spacing="6.7" text-anchor="middle" >Oblivion</text>
<circle cx="744.3" cy="69.0" r="5.6" fill="none" stroke="#fff" stroke-width="2"/>
<circle cx="743.3" cy="68.0" r="1.6" fill="#fff"/>
<circle cx="913.7" cy="69.0" r="5.6" fill="none" stroke="#fff" stroke-width="2"/>
<circle cx="912.7" cy="68.0" r="1.6" fill="#fff"/>
<rect x="755.3" y="67.0" width="147.4" height="4.0" fill="#fff" />
<circle cx="744.3" cy="181.5" r="5.6" fill="none" stroke="#fff" stroke-width="2"/>
<circle cx="743.3" cy="180.5" r="1.6" fill="#fff"/>
<circle cx="913.7" cy="181.5" r="5.6" fill="none" stroke="#fff" stroke-width="2"/>
<circle cx="912.7" cy="180.5" r="1.6" fill="#fff"/>
<rect x="755.3" y="179.5" width="147.4" height="4.0" fill="#fff" />
<text x="1087.8" y="53.5" font-family="Liberation Mono" font-size="17" font-weight="bold" fill="#fff" stroke="#fff" stroke-width="0.9" stroke-linejoin="miter" letter-spacing="6.7" text-anchor="middle" >Faces</text>
<circle cx="1000.3" cy="69.0" r="5.6" fill="none" stroke="#fff" stroke-width="2"/>
<circle cx="999.3" cy="68.0" r="1.6" fill="#fff"/>
<circle cx="1168.7" cy="69.0" r="5.6" fill="none" stroke="#fff" stroke-width="2"/>
<circle cx="1167.7" cy="68.0" r="1.6" fill="#fff"/>
<rect x="1011.3" y="67.0" width="146.4" height="4.0" fill="#fff" />
<circle cx="1000.3" cy="181.5" r="5.6" fill="none" stroke="#fff" stroke-width="2"/>
<circle cx="999.3" cy="180.5" r="1.6" fill="#fff"/>
<circle cx="1168.7" cy="181.5" r="5.6" fill="none" stroke="#fff" stroke-width="2"/>
<circle cx="1167.7" cy="180.5" r="1.6" fill="#fff"/>
<rect x="1011.3" y="179.5" width="146.4" height="4.0" fill="#fff" />
<text x="651.0" y="340.0" font-family="Liberation Mono" font-size="24" font-weight="bold" fill="#f0564c" stroke="#f0564c" stroke-width="1.2" stroke-linejoin="miter" letter-spacing="6.2" text-anchor="start" >Wave 1</text>
<text x="1130.5" y="340.0" font-family="Liberation Mono" font-size="24" font-weight="bold" fill="#f0564c" stroke="#f0564c" stroke-width="1.2" stroke-linejoin="miter" letter-spacing="6.2" text-anchor="start" >Wave 2</text>
<text x="1610.0" y="340.0" font-family="Liberation Mono" font-size="24" font-weight="bold" fill="#f0564c" stroke="#f0564c" stroke-width="1.2" stroke-linejoin="miter" letter-spacing="6.2" text-anchor="start" >Wave 3</text>
<rect x="525.3" y="195.0" width="25.0" height="24.0" rx="4.0" fill="#1c8cf4"/>
<path d="M529.8,198.0L524.8,193.0M529.8,214.0L524.8,219.0M545.8,198.0L550.8,193.0M545.8,214.0L550.8,219.0" stroke="#1c8cf4" stroke-width="4.0" stroke-linecap="square"/>
<path d="M528.1,194.8L532.5,194.8L530.3,198.0ZM530.8,219.2L534.8,219.2L532.8,216.5ZM543.1,194.8L547.5,194.8L545.3,198.0ZM540.8,219.2L544.8,219.2L542.8,216.5Z" fill="#000"/>
<circle cx="537.8" cy="206.5" r="8.6" fill="none" stroke="#0b3f8a" stroke-width="1.6"/>
<text x="538.1" y="211.6" font-family="Liberation Mono" font-size="15" font-weight="bold" fill="#fff" stroke="#fff" stroke-width="0.6" stroke-linejoin="miter" letter-spacing="0" text-anchor="middle" >4</text>
<rect x="619.5" y="195.0" width="25.0" height="24.0" rx="4.0" fill="#1c8cf4"/>
<path d="M624.0,198.0L619.0,193.0M624.0,214.0L619.0,219.0M640.0,198.0L645.0,193.0M640.0,214.0L645.0,219.0" stroke="#1c8cf4" stroke-width="4.0" stroke-linecap="square"/>
<path d="M622.3,194.8L626.7,194.8L624.5,198.0ZM625.0,219.2L629.0,219.2L627.0,216.5ZM637.3,194.8L641.7,194.8L639.5,198.0ZM635.0,219.2L639.0,219.2L637.0,216.5Z" fill="#000"/>
<circle cx="632.0" cy="206.5" r="8.6" fill="none" stroke="#0b3f8a" stroke-width="1.6"/>
<text x="632.3" y="211.6" font-family="Liberation Mono" font-size="15" font-weight="bold" fill="#fff" stroke="#fff" stroke-width="0.6" stroke-linejoin="miter" letter-spacing="0" text-anchor="middle" >4</text>
<path d="M573.2,206.6 L579.2,200.1 L580.2,204.6 L590.2,204.6 L591.2,200.1 L597.2,206.6 L591.2,213.1 L590.2,208.6 L580.2,208.6 L579.2,213.1 Z" fill="#fff"/>
<rect x="749.0" y="195.0" width="25.0" height="24.0" rx="4.0" fill="#fff"/>
<path d="M753.5,198.0L748.5,193.0M753.5,214.0L748.5,219.0M769.5,198.0L774.5,193.0M769.5,214.0L774.5,219.0" stroke="#fff" stroke-width="4.0" stroke-linecap="square"/>
<path d="M751.8,194.8L756.2,194.8L754.0,198.0ZM754.5,219.2L758.5,219.2L756.5,216.5ZM766.8,194.8L771.2,194.8L769.0,198.0ZM764.5,219.2L768.5,219.2L766.5,216.5Z" fill="#000"/>
<text x="761.8" y="211.6" font-family="Liberation Mono" font-size="15" font-weight="bold" fill="#000" stroke="#000" stroke-width="0.6" stroke-linejoin="miter" letter-spacing="0" text-anchor="middle" >2</text>
<rect x="843.0" y="195.0" width="25.0" height="24.0" rx="4.0" fill="#fff"/>
<path d="M847.5,198.0L842.5,193.0M847.5,214.0L842.5,219.0M863.5,198.0L868.5,193.0M863.5,214.0L868.5,219.0" stroke="#fff" stroke-width="4.0" stroke-linecap="square"/>
<path d="M845.8,194.8L850.2,194.8L848.0,198.0ZM848.5,219.2L852.5,219.2L850.5,216.5ZM860.8,194.8L865.2,194.8L863.0,198.0ZM858.5,219.2L862.5,219.2L860.5,216.5Z" fill="#000"/>
<text x="855.8" y="211.6" font-family="Liberation Mono" font-size="15" font-weight="bold" fill="#000" stroke="#000" stroke-width="0.6" stroke-linejoin="miter" letter-spacing="0" text-anchor="middle" >2</text>
<path d="M808.5,196.5 C812,196.5 813,199 813,201 C815,204 817,209 818,215 L799.5,215 C800.5,209 802.5,204 804.5,201 C804.5,199 805.5,196.5 808.5,196.5 Z" fill="#f06458"/>
<circle cx="808.5" cy="200.5" r="1.8" fill="#000"/>
<text x="808.8" y="221.5" font-family="Liberation Mono" font-size="12" font-weight="bold" fill="#fff" letter-spacing="0" text-anchor="middle" >6</text>
<rect x="1004.0" y="194.5" width="25.0" height="24.0" rx="4.0" fill="#fff"/>
<path d="M1008.5,197.5L1003.5,192.5M1008.5,213.5L1003.5,218.5M1024.5,197.5L1029.5,192.5M1024.5,213.5L1029.5,218.5" stroke="#fff" stroke-width="4.0" stroke-linecap="square"/>
<path d="M1006.8,194.3L1011.2,194.3L1009.0,197.5ZM1009.5,218.7L1013.5,218.7L1011.5,216.0ZM1021.8,194.3L1026.2,194.3L1024.0,197.5ZM1019.5,218.7L1023.5,218.7L1021.5,216.0Z" fill="#000"/>
<text x="1016.8" y="211.1" font-family="Liberation Mono" font-size="15" font-weight="bold" fill="#000" stroke="#000" stroke-width="0.6" stroke-linejoin="miter" letter-spacing="0" text-anchor="middle" >3</text>
<path d="M1015.5,265 H1043 L1045,268 V293 L1043,296 H1015.5 Z" fill="#000" stroke="#cfcfcf" stroke-width="1.6"/>
<path d="M1017,258 q3,-1 5,1 q1,3 -2,4 q-3,0 -3,-5z M1017,303 q3,1 5,-1 q1,-3 -2,-4 q-3,0 -3,5z" fill="none" stroke="#bbb" stroke-width="1.2"/>
<path d="M1018.5,280.5 L1024.5,275.0 L1025.5,278.5 L1034.5,278.5 L1035.5,275.0 L1041.5,280.5 L1035.5,286.0 L1034.5,282.5 L1025.5,282.5 L1024.5,286.0 Z" fill="#fff"/>
<path d="M1062,265 H1156 L1158,268 V294 L1156,296 H1062 Z" fill="#000" stroke="#bdbdbd" stroke-width="1.8"/>
<rect x="1063.0" y="265.0" width="29.0" height="30.0" fill="#e8473c" />
<rect x="1066.6" y="270.4" width="21.7" height="20.9" rx="3.5" fill="#f26252"/>
<path d="M1070.5,273.0L1066.2,268.7M1070.5,287.0L1066.2,291.3M1084.5,273.0L1088.8,268.7M1084.5,287.0L1088.8,291.3" stroke="#f26252" stroke-width="3.5" stroke-linecap="square"/>
<path d="M1069.1,270.3L1072.9,270.3L1071.0,273.0ZM1071.4,291.5L1074.9,291.5L1073.2,289.1ZM1082.1,270.3L1085.9,270.3L1084.0,273.0ZM1080.1,291.5L1083.6,291.5L1081.8,289.1Z" fill="#000"/>
<circle cx="1077.5" cy="280.5" r="7.5" fill="none" stroke="#8a1c14" stroke-width="1.6"/>
<text x="1077.8" y="284.9" font-family="Liberation Mono" font-size="13" font-weight="bold" fill="#fff" stroke="#fff" stroke-width="0.6" stroke-linejoin="miter" letter-spacing="0" text-anchor="middle" >4</text>
<path d="M1124.5,266 V295" stroke="#bbb" stroke-width="1.2" stroke-dasharray="2 2"/>
<path d="M1155,266 V295" stroke="#888" stroke-width="3"/>
<defs><pattern id="dith" x="0" y="0" width="3" height="3" patternUnits="userSpaceOnUse"><rect width="3" height="3" fill="#000"/><rect width="1.6" height="1.6" fill="#fff"/></pattern></defs>
<path d="M601,104 C599,97 604,89 612,85 C620,82 629,83 632,89 C634,95 631,102 626,107 C622,111 617,114 612,114 C607,114 603,110 601,104 Z" fill="url(#dith)" stroke="#fff" stroke-width="2.6"/>
<path d="M612,86 C620,83 630,85 631,92 C631,100 625,107 619,111 L612,106 C616,100 617,92 612,86 Z" fill="#000"/>
<path d="M603,112 L586,112 C579,115 574,122 574,131 C574,141 578,148 586,154 L589,157 L588,174 L612,174 L614,156 C618,146 621,134 622,120 L619,116 L612,118 Z" fill="url(#dith)" stroke="#fff" stroke-width="2.4" stroke-linejoin="round"/>
<path d="M596,117 C604,120 612,124 616,130 L613,150 C608,154 600,156 592,156 C596,146 598,132 596,117 Z" fill="#000"/>
<path d="M608,128 L607,147 M611,128 L610,146" fill="none" stroke="#fff" stroke-width="2" stroke-linejoin="round" stroke-linecap="round" />
<path d="M590,140 L604,136 M592,147 L606,143" fill="none" stroke="#fff" stroke-width="2.4" stroke-linejoin="round" stroke-linecap="round" />
<path d="M593,158 L593,174 M600,158 L600,174 M607,157 L607,174" fill="none" stroke="#fff" stroke-width="2" stroke-linejoin="round" stroke-linecap="round" />
<path d="M618,112 L624,118 L616,152 L612,172" fill="none" stroke="#fff" stroke-width="2.6" stroke-linejoin="round" stroke-linecap="round" />
<path d="M842,83 C850,76 862,79 865,92 C868,106 867,120 864,128 C860,134 851,132 845,124 C839,112 835,100 838,90 C839,86 840,85 842,83 Z" fill="#000" stroke="#fff" stroke-width="2.4"/>
<path d="M851,84 C858,92 862,106 862,122" fill="none" stroke="#eee" stroke-width="4" stroke-linejoin="round" stroke-linecap="round" />
<path d="M841,128 C836,134 836,144 840,149 C846,155 856,154 861,148 C865,142 864,133 861,128 Z" fill="url(#dith)" stroke="#fff" stroke-width="2.2"/>
<path d="M845,135 L859,131" fill="none" stroke="#fff" stroke-width="2.4" stroke-linejoin="round" stroke-linecap="round" />
<path d="M838,92 C834,102 833,112 834,121 L829,129 L822,137 L818,149 L816,161 L814,173" fill="none" stroke="#fff" stroke-width="2.6" stroke-linejoin="round" stroke-linecap="round" />
<path d="M834,120 L826,127 L819,138 L816,150 L815,162 L820,160 L824,148 L829,136 L836,128 Z" fill="url(#dith)"/>
<path d="M826,126 L833,121 M822,134 L831,132 M818,142 L827,142 M817,150 L826,152 M816,158 L824,161" fill="none" stroke="#fff" stroke-width="2" stroke-linejoin="round" stroke-linecap="round" />
<path d="M820,163 L812,173 M826,162 L833,173 M810,173 L819,173" fill="none" stroke="#fff" stroke-width="2.2" stroke-linejoin="round" stroke-linecap="round" />
<path d="M812,117 C808,115 803,117 800,122 C795,127 790,129 786,131 C782,136 782,146 784,156 L785,172" fill="none" stroke="#fff" stroke-width="2.6" stroke-linejoin="round" stroke-linecap="round" />
<path d="M813,118 C816,122 814,126 810,129 C805,133 798,137 795,141 L794,158 L795,172" fill="none" stroke="#fff" stroke-width="2.2" stroke-linejoin="round" stroke-linecap="round" />
<path d="M801,121 L812,118 L810,127 L798,133 Z" fill="url(#dith)"/>
<path d="M769,146 L772,160 L777,172 M775,156 L780,170 M779,154 L783,170" fill="none" stroke="#fff" stroke-width="2.2" stroke-linejoin="round" stroke-linecap="round" />
<path d="M1065,90 C1072,84 1100,84 1108,90 C1113,96 1114,104 1112,110 L1116,114 L1110,120 L1112,128 C1105,134 1096,137 1086,137 C1076,137 1068,134 1062,128 L1064,120 L1058,114 L1062,110 C1060,104 1060,96 1065,90 Z" fill="url(#dith)" stroke="#fff" stroke-width="2.4"/>
<path d="M1068,98 L1084,92 L1086,112 L1074,116 L1066,112 Z M1092,92 L1106,98 L1108,112 L1098,116 L1090,112 Z" fill="#000"/>
<path d="M1066,104 L1073,104 M1064,108 L1073,108 M1101,104 L1108,104 M1101,108 L1110,108" fill="none" stroke="#fff" stroke-width="2.2" stroke-linejoin="round" stroke-linecap="round" />
<rect x="1070" y="117" width="34" height="10" fill="#000" stroke="#fff" stroke-width="1.8"/>
<path d="M1076,118 V126 M1082,118 V126 M1088,118 V126 M1094,118 V126 M1099,118 V126" fill="none" stroke="#fff" stroke-width="1.6" stroke-linejoin="round" stroke-linecap="round" />
<path d="M1070,134 C1080,140 1094,140 1104,134" fill="none" stroke="#fff" stroke-width="2.2" stroke-linejoin="round" stroke-linecap="round" />
<path d="M1060,140 C1056,140 1052,146 1050,152 L1047,172 M1066,142 C1062,146 1058,152 1056,160 L1055,172" fill="none" stroke="#fff" stroke-width="2.4" stroke-linejoin="round" stroke-linecap="round" />
<path d="M1074,141 L1074,168 M1074,146 L1086,146 M1073,152 L1085,152 M1074,158 L1084,158 M1075,164 L1083,166" fill="none" stroke="#fff" stroke-width="2.2" stroke-linejoin="round" stroke-linecap="round" />
<path d="M1080,144 L1104,142" fill="none" stroke="#fff" stroke-width="2.2" stroke-linejoin="round" stroke-linecap="round" />
<path d="M1090,150 L1100,148 L1098,172 L1088,172 Z" fill="url(#dith)" stroke="#fff" stroke-width="1.8"/>
<path d="M1106,140 L1108,172 M1112,144 L1118,152 L1118,172" fill="none" stroke="#fff" stroke-width="2.4" stroke-linejoin="round" stroke-linecap="round" />
<path d="M1107,146 L1112,146 L1116,154 L1116,170 L1109,170 Z" fill="url(#dith)"/>
<rect x="168.0" y="349.6" width="37.0" height="4.3" fill="#fff" />
<rect x="205.0" y="354.0" width="17.0" height="4.3" fill="#fff" />
<rect x="222.0" y="349.6" width="32.0" height="4.3" fill="#fff" />
<rect x="254.0" y="354.0" width="90.0" height="4.3" fill="#fff" />
<rect x="344.0" y="349.6" width="107.0" height="4.3" fill="#fff" />
<rect x="451.0" y="354.0" width="129.0" height="4.3" fill="#fff" />
<rect x="580.0" y="358.4" width="102.0" height="4.3" fill="#fff" />
<rect x="682.0" y="354.0" width="103.0" height="4.3" fill="#fff" />
<rect x="785.0" y="358.4" width="127.0" height="4.3" fill="#fff" />
<rect x="912.0" y="354.0" width="116.0" height="4.3" fill="#fff" />
<rect x="1028.0" y="349.6" width="179.0" height="4.3" fill="#fff" />
<rect x="1207.0" y="354.0" width="90.0" height="4.3" fill="#fff" />
<rect x="1297.0" y="349.6" width="76.0" height="4.3" fill="#fff" />
<rect x="1373.0" y="354.0" width="197.0" height="4.3" fill="#fff" />
<rect x="1570.0" y="349.6" width="63.0" height="4.3" fill="#fff" />
<rect x="1633.0" y="354.0" width="31.0" height="4.3" fill="#fff" />
<rect x="169.0" y="1057.0" width="13.0" height="4.3" fill="#fff" />
<rect x="182.0" y="1061.0" width="32.0" height="4.3" fill="#fff" />
<rect x="214.0" y="1065.3" width="108.0" height="4.3" fill="#fff" />
<rect x="322.0" y="1061.0" width="91.0" height="4.3" fill="#fff" />
<rect x="413.0" y="1057.0" width="103.0" height="4.3" fill="#fff" />
<rect x="516.0" y="1061.0" width="115.0" height="4.3" fill="#fff" />
<rect x="631.0" y="1057.0" width="166.0" height="4.3" fill="#fff" />
<rect x="797.0" y="1061.0" width="218.0" height="4.3" fill="#fff" />
<rect x="1015.0" y="1065.3" width="243.0" height="4.3" fill="#fff" />
<rect x="1258.0" y="1061.0" width="205.0" height="4.3" fill="#fff" />
<rect x="1463.0" y="1065.3" width="139.0" height="4.3" fill="#fff" />
<rect x="1602.0" y="1061.0" width="13.0" height="4.3" fill="#fff" />
<rect x="1615.0" y="1057.0" width="33.0" height="4.3" fill="#fff" />
<rect x="168.5" y="354.0" width="4.3" height="40.0" fill="#fff" />
<rect x="173.8" y="394.0" width="4.3" height="32.0" fill="#fff" />
<rect x="178.0" y="426.0" width="4.3" height="18.0" fill="#fff" />
<rect x="173.8" y="444.0" width="4.3" height="18.0" fill="#fff" />
<rect x="169.2" y="462.0" width="4.3" height="174.0" fill="#fff" />
<rect x="169.2" y="646.0" width="4.3" height="122.0" fill="#fff" />
<rect x="169.2" y="778.0" width="4.3" height="197.0" fill="#fff" />
<rect x="173.8" y="975.0" width="4.3" height="13.0" fill="#fff" />
<rect x="178.0" y="988.0" width="4.3" height="18.0" fill="#fff" />
<rect x="173.8" y="1006.0" width="4.3" height="28.0" fill="#fff" />
<rect x="168.8" y="1034.0" width="4.3" height="27.0" fill="#fff" />
<rect x="1736.2" y="405.0" width="4.3" height="30.0" fill="#fff" />
<rect x="1741.6" y="435.0" width="4.3" height="36.0" fill="#fff" />
<rect x="1736.2" y="471.0" width="4.3" height="103.0" fill="#fff" />
<rect x="1741.6" y="574.0" width="4.3" height="90.0" fill="#fff" />
<rect x="1736.2" y="664.0" width="4.3" height="38.0" fill="#fff" />
<rect x="1736.2" y="715.0" width="4.3" height="39.0" fill="#fff" />
<rect x="1733.2" y="754.0" width="4.3" height="108.0" fill="#fff" />
<rect x="1736.2" y="862.0" width="4.3" height="72.0" fill="#fff" />
<rect x="1733.2" y="934.0" width="4.3" height="46.0" fill="#fff" />
<rect x="1736.5" y="980.0" width="4.3" height="32.0" fill="#fff" />
<defs><pattern id="chk" x="0" y="0" width="9" height="9" patternUnits="userSpaceOnUse"><rect width="9" height="9" fill="#000"/><rect width="4.5" height="4.5" fill="#fff"/><rect x="4.5" y="4.5" width="4.5" height="4.5" fill="#fff"/></pattern><pattern id="chk2" x="0" y="0" width="6" height="6" patternUnits="userSpaceOnUse"><rect width="6" height="6" fill="#fff"/><rect x="1" y="1" width="2" height="2" fill="#000"/><rect x="4" y="4" width="2" height="2" fill="#000"/></pattern></defs>
<path d="M168.5,353 L313,353 L312,358 L308,366 L258,371 L228,373 L217,377 L208,385 L198,395 L190,403 L185,410 L184,426 L178,426 L178,394 L168.5,394 Z" fill="url(#chk)"/>
<rect x="168.5" y="353.0" width="4.5" height="41.0" fill="#fff" />
<path d="M1661,354 L1669,355.5 L1674,365 L1686,369.5 L1722.7,372 L1731.5,381 L1736.8,386 L1741,400 L1741,413 L1736,413 L1719,411 L1715.6,407 L1696,406.5 L1685.7,400 L1677,390 L1666,379 L1660,374 Z" fill="#fff"/>
<path d="M1725,1010 L1745.5,1010 L1745.5,1070 L1646,1070 L1646,1053 L1653,1046.7 L1666.7,1042.5 L1683,1041.7 L1691.7,1036.7 L1700,1025 L1706.7,1021.7 L1720,1016.7 Z" fill="url(#chk)"/>
<rect x="1646.0" y="1065.3" width="99.5" height="4.7" fill="#fff" />
<rect x="1741.0" y="1010.0" width="4.5" height="50.0" fill="#fff" />
<path d="M375.9,702.0h9.2v5.4h-9.2z M375.9,714.5h9.2v5.4h-9.2z M427.4,702.0h9.2v5.4h-9.2z M427.4,714.5h9.2v5.4h-9.2z M478.4,702.0h9.2v5.4h-9.2z M478.4,714.5h9.2v5.4h-9.2z M529.4,702.0h9.2v5.4h-9.2z M529.4,714.5h9.2v5.4h-9.2z M1024.4,702.0h9.2v5.4h-9.2z M1024.4,714.5h9.2v5.4h-9.2z M1075.4,702.0h9.2v5.4h-9.2z M1075.4,714.5h9.2v5.4h-9.2z M1126.4,702.0h9.2v5.4h-9.2z M1126.4,714.5h9.2v5.4h-9.2z M1176.9,702.0h9.2v5.4h-9.2z M1176.9,714.5h9.2v5.4h-9.2z M1349.9,702.0h9.2v5.4h-9.2z M1349.9,714.5h9.2v5.4h-9.2z M1400.9,702.0h9.2v5.4h-9.2z M1400.9,714.5h9.2v5.4h-9.2z M1451.9,702.0h9.2v5.4h-9.2z M1451.9,714.5h9.2v5.4h-9.2z M1501.9,702.0h9.2v5.4h-9.2z M1501.9,714.5h9.2v5.4h-9.2z M1673.9,702.0h9.2v5.4h-9.2z M1673.9,714.5h9.2v5.4h-9.2z M1724.4,702.0h9.2v5.4h-9.2z M1724.4,714.5h9.2v5.4h-9.2z M853.4,467.7h9.2v5.4h-9.2z M853.4,480.2h9.2v5.4h-9.2z M342.2,684.2h4.4v4.4h-4.4zM347.0,679.8h4.4v4.4h-4.4z M351.0,692.4h4.4v4.4h-4.4zM355.8,688.0h4.4v4.4h-4.4z M367.7,659.0h4.4v4.4h-4.4zM372.5,654.6h4.4v4.4h-4.4z M376.5,667.2h4.4v4.4h-4.4zM381.3,662.8h4.4v4.4h-4.4z M393.2,633.9h4.4v4.4h-4.4zM398.0,629.5h4.4v4.4h-4.4z M402.0,642.1h4.4v4.4h-4.4zM406.8,637.7h4.4v4.4h-4.4z M418.7,608.7h4.4v4.4h-4.4zM423.5,604.3h4.4v4.4h-4.4z M427.5,616.9h4.4v4.4h-4.4zM432.3,612.5h4.4v4.4h-4.4z M444.2,583.6h4.4v4.4h-4.4zM449.0,579.2h4.4v4.4h-4.4z M453.0,591.8h4.4v4.4h-4.4zM457.8,587.4h4.4v4.4h-4.4z M469.7,558.4h4.4v4.4h-4.4zM474.5,554.0h4.4v4.4h-4.4z M478.5,566.6h4.4v4.4h-4.4zM483.3,562.2h4.4v4.4h-4.4z M495.2,533.3h4.4v4.4h-4.4zM500.0,528.9h4.4v4.4h-4.4z M504.0,541.5h4.4v4.4h-4.4zM508.8,537.1h4.4v4.4h-4.4z M520.7,508.1h4.4v4.4h-4.4zM525.5,503.8h4.4v4.4h-4.4z M529.5,516.4h4.4v4.4h-4.4zM534.3,511.9h4.4v4.4h-4.4z M546.2,483.0h4.4v4.4h-4.4zM551.0,478.6h4.4v4.4h-4.4z M555.0,491.2h4.4v4.4h-4.4zM559.8,486.8h4.4v4.4h-4.4z M725.6,539.6h4.4v4.4h-4.4zM730.4,544.0h4.4v4.4h-4.4z M716.8,548.6h4.4v4.4h-4.4zM721.6,553.0h4.4v4.4h-4.4z M751.1,565.0h4.4v4.4h-4.4zM755.9,569.5h4.4v4.4h-4.4z M742.3,574.0h4.4v4.4h-4.4zM747.1,578.5h4.4v4.4h-4.4z M776.6,590.5h4.4v4.4h-4.4zM781.4,594.9h4.4v4.4h-4.4z M767.8,599.5h4.4v4.4h-4.4zM772.6,603.9h4.4v4.4h-4.4z M802.1,615.9h4.4v4.4h-4.4zM806.9,620.4h4.4v4.4h-4.4z M793.3,624.9h4.4v4.4h-4.4zM798.1,629.4h4.4v4.4h-4.4z M827.6,641.4h4.4v4.4h-4.4zM832.4,645.8h4.4v4.4h-4.4z M818.8,650.4h4.4v4.4h-4.4zM823.6,654.8h4.4v4.4h-4.4z M853.1,666.8h4.4v4.4h-4.4zM857.9,671.2h4.4v4.4h-4.4z M844.3,675.8h4.4v4.4h-4.4zM849.1,680.2h4.4v4.4h-4.4z M878.6,692.3h4.4v4.4h-4.4zM883.4,696.7h4.4v4.4h-4.4z M869.8,701.3h4.4v4.4h-4.4zM874.6,705.7h4.4v4.4h-4.4z M675.4,723.3h4.4v4.4h-4.4zM680.2,727.7h4.4v4.4h-4.4z M666.6,732.3h4.4v4.4h-4.4zM671.4,736.7h4.4v4.4h-4.4z M700.8,748.9h4.4v4.4h-4.4zM705.6,753.3h4.4v4.4h-4.4z M692.0,757.9h4.4v4.4h-4.4zM696.8,762.3h4.4v4.4h-4.4z M726.2,774.4h4.4v4.4h-4.4zM731.0,778.8h4.4v4.4h-4.4z M717.4,783.4h4.4v4.4h-4.4zM722.2,787.8h4.4v4.4h-4.4z M751.6,800.0h4.4v4.4h-4.4zM756.4,804.4h4.4v4.4h-4.4z M742.8,809.0h4.4v4.4h-4.4zM747.6,813.4h4.4v4.4h-4.4z M777.0,825.6h4.4v4.4h-4.4zM781.8,830.0h4.4v4.4h-4.4z M768.2,834.6h4.4v4.4h-4.4zM773.0,839.0h4.4v4.4h-4.4z M802.4,851.1h4.4v4.4h-4.4zM807.2,855.6h4.4v4.4h-4.4z M793.6,860.1h4.4v4.4h-4.4zM798.4,864.6h4.4v4.4h-4.4z M827.8,876.7h4.4v4.4h-4.4zM832.6,881.1h4.4v4.4h-4.4z M819.0,885.7h4.4v4.4h-4.4zM823.8,890.1h4.4v4.4h-4.4z M853.2,902.3h4.4v4.4h-4.4zM858.0,906.7h4.4v4.4h-4.4z M844.4,911.3h4.4v4.4h-4.4zM849.2,915.7h4.4v4.4h-4.4z M878.6,927.9h4.4v4.4h-4.4zM883.4,932.3h4.4v4.4h-4.4z M869.8,936.9h4.4v4.4h-4.4zM874.6,941.3h4.4v4.4h-4.4z M999.8,488.9h4.4v4.4h-4.4zM1004.6,493.3h4.4v4.4h-4.4z M991.0,497.9h4.4v4.4h-4.4zM995.8,502.3h4.4v4.4h-4.4z M1025.3,514.4h4.4v4.4h-4.4zM1030.1,518.9h4.4v4.4h-4.4z M1016.5,523.4h4.4v4.4h-4.4zM1021.3,527.9h4.4v4.4h-4.4z M1050.8,540.0h4.4v4.4h-4.4zM1055.6,544.4h4.4v4.4h-4.4z M1042.0,549.0h4.4v4.4h-4.4zM1046.8,553.4h4.4v4.4h-4.4z M1076.3,565.5h4.4v4.4h-4.4zM1081.1,570.0h4.4v4.4h-4.4z M1067.5,574.5h4.4v4.4h-4.4zM1072.3,579.0h4.4v4.4h-4.4z M1101.8,591.1h4.4v4.4h-4.4zM1106.6,595.5h4.4v4.4h-4.4z M1093.0,600.1h4.4v4.4h-4.4zM1097.8,604.5h4.4v4.4h-4.4z M1127.3,616.6h4.4v4.4h-4.4zM1132.1,621.0h4.4v4.4h-4.4z M1118.5,625.6h4.4v4.4h-4.4zM1123.3,630.0h4.4v4.4h-4.4z M1152.8,642.2h4.4v4.4h-4.4zM1157.6,646.6h4.4v4.4h-4.4z M1144.0,651.2h4.4v4.4h-4.4zM1148.8,655.6h4.4v4.4h-4.4z M1178.3,667.7h4.4v4.4h-4.4zM1183.1,672.1h4.4v4.4h-4.4z M1169.5,676.7h4.4v4.4h-4.4zM1174.3,681.1h4.4v4.4h-4.4z M989.9,916.9h4.4v4.4h-4.4zM994.7,912.5h4.4v4.4h-4.4z M998.7,925.1h4.4v4.4h-4.4zM1003.5,920.7h4.4v4.4h-4.4z M1015.5,891.9h4.4v4.4h-4.4zM1020.2,887.4h4.4v4.4h-4.4z M1024.2,900.1h4.4v4.4h-4.4zM1029.1,895.6h4.4v4.4h-4.4z M1041.0,866.8h4.4v4.4h-4.4zM1045.8,862.4h4.4v4.4h-4.4z M1049.8,875.0h4.4v4.4h-4.4zM1054.6,870.6h4.4v4.4h-4.4z M1066.5,841.8h4.4v4.4h-4.4zM1071.3,837.3h4.4v4.4h-4.4z M1075.3,850.0h4.4v4.4h-4.4zM1080.2,845.5h4.4v4.4h-4.4z M1092.1,816.7h4.4v4.4h-4.4zM1096.9,812.3h4.4v4.4h-4.4z M1100.9,824.9h4.4v4.4h-4.4zM1105.7,820.5h4.4v4.4h-4.4z M1117.6,791.6h4.4v4.4h-4.4zM1122.5,787.2h4.4v4.4h-4.4z M1126.5,799.9h4.4v4.4h-4.4zM1131.3,795.4h4.4v4.4h-4.4z M1143.2,766.6h4.4v4.4h-4.4zM1148.0,762.2h4.4v4.4h-4.4z M1152.0,774.8h4.4v4.4h-4.4zM1156.8,770.4h4.4v4.4h-4.4z M1168.7,741.5h4.4v4.4h-4.4zM1173.5,737.1h4.4v4.4h-4.4z M1177.5,749.8h4.4v4.4h-4.4zM1182.4,745.3h4.4v4.4h-4.4z M179.8,642.1h4.4v4.4h-4.4zM184.6,646.5h4.4v4.4h-4.4z M171.0,651.1h4.4v4.4h-4.4zM175.8,655.5h4.4v4.4h-4.4z M204.8,666.6h4.4v4.4h-4.4zM209.6,671.0h4.4v4.4h-4.4z M196.0,675.6h4.4v4.4h-4.4zM200.8,680.0h4.4v4.4h-4.4z M196.0,739.9h4.4v4.4h-4.4zM200.8,735.5h4.4v4.4h-4.4z M204.8,748.1h4.4v4.4h-4.4zM209.6,743.7h4.4v4.4h-4.4z M171.7,765.2h4.4v4.4h-4.4zM176.5,760.8h4.4v4.4h-4.4z M180.5,773.4h4.4v4.4h-4.4zM185.3,769.0h4.4v4.4h-4.4z" fill="#fff"/>
<path d="M225,697 l4,0 l0,4 l-4,0z M232,694 l4,0 l0,4 l-4,0z M223,704 l4,0 l0,4 l-4,0z M226,712 l4,0 l0,4 l-4,0z M223,719 l4,0 l0,4 l-4,0z M231,722 l4,0 l0,4 l-4,0z" fill="#fff"/>
<path d="M1200,701 l4,0 l0,4 l-4,0z M1207,697 l4,0 l0,4 l-4,0z M1204,708 l4,0 l0,4 l-4,0z M1200,716 l4,0 l0,4 l-4,0z M1207,720 l4,0 l0,4 l-4,0z M1211,710 l4,0 l0,4 l-4,0z" fill="#fff"/>
<path d="M272.5,662.1 L308.5,662.1 A51.8,51.8 0 0 1 339.3,693.3 L339.3,728.7 L315.0,753.1 L266.0,753.1 L241.7,728.7 L241.7,693.3 A51.8,51.8 0 0 1 272.5,662.1 Z" fill="#000" stroke="#fff" stroke-width="3.3"/>
<path d="M240.7,733.5 L266.0,759.3 L315.0,759.3 L340.3,733.5" fill="none" stroke="#fff" stroke-width="3.3"/>
<ellipse cx="290.5" cy="707.8" rx="20.6" ry="28.3" fill="none" stroke="#fff" stroke-width="1.6"/>
<path d="M281.7,694.8 C287.7,698.0 289.1,706.0 281.7,711.2 C274.3,706.0 275.7,698.0 281.7,694.8 Z" fill="#fff"/>
<path d="M299.9,694.8 C305.9,698.0 307.3,706.0 299.9,711.2 C292.5,706.0 293.9,698.0 299.9,694.8 Z" fill="#fff"/>
<path d="M597.2,662.1 L633.2,662.1 A51.8,51.8 0 0 1 664.0,693.3 L664.0,728.7 L639.7,753.1 L590.7,753.1 L566.4,728.7 L566.4,693.3 A51.8,51.8 0 0 1 597.2,662.1 Z" fill="#000" stroke="#fff" stroke-width="3.3"/>
<path d="M565.4,733.5 L590.7,759.3 L639.7,759.3 L665.0,733.5" fill="none" stroke="#fff" stroke-width="3.3"/>
<path d="M618.6,706.3 L618.8,706.4 L619.0,706.6 L619.2,706.7 L619.4,706.9 L619.6,707.2 L619.8,707.4 L619.9,707.7 L620.0,708.0 L620.1,708.4 L620.2,708.7 L620.2,709.1 L620.2,709.4 L620.2,709.8 L620.1,710.2 L619.9,710.6 L619.8,711.0 L619.6,711.3 L619.3,711.7 L619.0,712.0 L618.7,712.4 L618.3,712.7 L617.9,712.9 L617.5,713.2 L617.1,713.4 L616.6,713.5 L616.1,713.6 L615.5,713.7 L615.0,713.7 L614.4,713.7 L613.9,713.6 L613.3,713.5 L612.7,713.3 L612.2,713.0 L611.6,712.7 L611.1,712.4 L610.6,712.0 L610.2,711.5 L609.7,711.0 L609.4,710.5 L609.0,709.9 L608.7,709.3 L608.5,708.6 L608.3,707.9 L608.2,707.2 L608.1,706.5 L608.1,705.7 L608.2,705.0 L608.4,704.2 L608.6,703.5 L608.9,702.7 L609.2,702.0 L609.6,701.3 L610.1,700.6 L610.7,700.0 L611.3,699.4 L612.0,698.9 L612.7,698.4 L613.5,698.0 L614.3,697.6 L615.2,697.3 L616.1,697.1 L617.0,697.0 L617.9,696.9 L618.9,697.0 L619.8,697.1 L620.8,697.3 L621.7,697.6 L622.6,698.0 L623.5,698.4 L624.4,699.0 L625.2,699.6 L626.0,700.3 L626.7,701.1 L627.4,701.9 L627.9,702.8 L628.4,703.8 L628.9,704.8 L629.2,705.9 L629.4,706.9 L629.6,708.1 L629.6,709.2 L629.6,710.4 L629.4,711.5 L629.2,712.7 L628.8,713.8 L628.4,714.9 L627.8,716.0 L627.2,717.0 L626.4,718.0 L625.6,718.9 L624.6,719.8 L623.6,720.6 L622.5,721.2 L621.4,721.8 L620.2,722.3 L618.9,722.7 L617.6,723.0 L616.3,723.2 L615.0,723.2 L613.6,723.2 L612.2,723.0 L610.9,722.7 L609.6,722.3 L608.3,721.7 L607.0,721.1 L605.8,720.3 L604.7,719.4 L603.6,718.5 L602.6,717.4 L601.7,716.2 L600.9,715.0 L600.2,713.6 L599.6,712.2 L599.2,710.8 L598.8,709.3 L598.6,707.8 L598.6,706.2 L598.6,704.6 L598.8,703.1 L599.2,701.5 L599.6,700.0 L600.3,698.5 L601.0,697.1 L601.9,695.7 L602.9,694.4 L604.0,693.1 L605.2,692.0 L606.5,691.0 L608.0,690.1 L609.5,689.3 L611.1,688.6 L612.7,688.1 L614.4,687.7 L616.1,687.4 L617.9,687.4 L619.6,687.4 L621.4,687.6 L623.2,688.0 L624.9,688.5 L626.6,689.2 L628.2,690.1 L629.8,691.0 L631.3,692.1 L632.6,693.4 L633.9,694.7 L635.1,696.2 L636.1,697.8 L637.0,699.5 L637.8,701.3 L638.4,703.1 L638.8,705.0 L639.1,706.9 L639.2,708.9 L639.2,710.9 L639.0,712.8 L638.6,714.8 L638.0,716.7 L637.2,718.6 L636.3,720.4 L635.3,722.2 L634.1,723.8 L632.7,725.4 L631.2,726.8 L629.5,728.1 L627.8,729.3 L625.9,730.3 L624.0,731.2 L622.0,731.8 L619.9,732.4 L617.8,732.7 L615.6,732.8 L613.4,732.8 L611.2,732.6 L609.1,732.1 L606.9,731.5 L604.8,730.7 L602.8,729.8 L600.9,728.6 L599.1,727.3 L597.3,725.8 L595.8,724.2 L594.3,722.4 L593.0,720.5 L591.9,718.5 L590.9,716.3 L590.1,714.1 L589.5,711.8 L589.1,709.5 L589.0,707.1 L589.0,704.7 L589.2,702.4 L589.6,700.0 L590.3,697.7 L591.1,695.4 L592.2,693.2 L593.4,691.0 L594.8,689.0 L596.4,687.1 L598.2,685.4 L600.1,683.8" fill="none" stroke="#fff" stroke-width="5.4" stroke-linecap="round"/>
<path d="M1570.1,662.1 L1606.1,662.1 A51.8,51.8 0 0 1 1636.9,693.3 L1636.9,728.7 L1612.6,753.1 L1563.6,753.1 L1539.3,728.7 L1539.3,693.3 A51.8,51.8 0 0 1 1570.1,662.1 Z" fill="#000" stroke="#fff" stroke-width="3.3"/>
<path d="M1538.3,733.5 L1563.6,759.3 L1612.6,759.3 L1637.9,733.5" fill="none" stroke="#fff" stroke-width="3.3"/>
<path d="M1591.5,706.3 L1591.7,706.4 L1591.9,706.6 L1592.1,706.7 L1592.3,706.9 L1592.5,707.2 L1592.7,707.4 L1592.8,707.7 L1592.9,708.0 L1593.0,708.4 L1593.1,708.7 L1593.1,709.1 L1593.1,709.4 L1593.1,709.8 L1593.0,710.2 L1592.8,710.6 L1592.7,711.0 L1592.5,711.3 L1592.2,711.7 L1591.9,712.0 L1591.6,712.4 L1591.2,712.7 L1590.8,712.9 L1590.4,713.2 L1590.0,713.4 L1589.5,713.5 L1589.0,713.6 L1588.4,713.7 L1587.9,713.7 L1587.3,713.7 L1586.8,713.6 L1586.2,713.5 L1585.6,713.3 L1585.1,713.0 L1584.5,712.7 L1584.0,712.4 L1583.5,712.0 L1583.1,711.5 L1582.6,711.0 L1582.3,710.5 L1581.9,709.9 L1581.6,709.3 L1581.4,708.6 L1581.2,707.9 L1581.1,707.2 L1581.0,706.5 L1581.0,705.7 L1581.1,705.0 L1581.3,704.2 L1581.5,703.5 L1581.8,702.7 L1582.1,702.0 L1582.5,701.3 L1583.0,700.6 L1583.6,700.0 L1584.2,699.4 L1584.9,698.9 L1585.6,698.4 L1586.4,698.0 L1587.2,697.6 L1588.1,697.3 L1589.0,697.1 L1589.9,697.0 L1590.8,696.9 L1591.8,697.0 L1592.7,697.1 L1593.7,697.3 L1594.6,697.6 L1595.5,698.0 L1596.4,698.4 L1597.3,699.0 L1598.1,699.6 L1598.9,700.3 L1599.6,701.1 L1600.3,701.9 L1600.8,702.8 L1601.3,703.8 L1601.8,704.8 L1602.1,705.9 L1602.3,706.9 L1602.5,708.1 L1602.5,709.2 L1602.5,710.4 L1602.3,711.5 L1602.1,712.7 L1601.7,713.8 L1601.3,714.9 L1600.7,716.0 L1600.1,717.0 L1599.3,718.0 L1598.5,718.9 L1597.5,719.8 L1596.5,720.6 L1595.4,721.2 L1594.3,721.8 L1593.1,722.3 L1591.8,722.7 L1590.5,723.0 L1589.2,723.2 L1587.9,723.2 L1586.5,723.2 L1585.1,723.0 L1583.8,722.7 L1582.5,722.3 L1581.2,721.7 L1579.9,721.1 L1578.7,720.3 L1577.6,719.4 L1576.5,718.5 L1575.5,717.4 L1574.6,716.2 L1573.8,715.0 L1573.1,713.6 L1572.5,712.2 L1572.1,710.8 L1571.7,709.3 L1571.5,707.8 L1571.5,706.2 L1571.5,704.6 L1571.7,703.1 L1572.1,701.5 L1572.5,700.0 L1573.2,698.5 L1573.9,697.1 L1574.8,695.7 L1575.8,694.4 L1576.9,693.1 L1578.1,692.0 L1579.4,691.0 L1580.9,690.1 L1582.4,689.3 L1584.0,688.6 L1585.6,688.1 L1587.3,687.7 L1589.0,687.4 L1590.8,687.4 L1592.5,687.4 L1594.3,687.6 L1596.1,688.0 L1597.8,688.5 L1599.5,689.2 L1601.1,690.1 L1602.7,691.0 L1604.2,692.1 L1605.5,693.4 L1606.8,694.7 L1608.0,696.2 L1609.0,697.8 L1609.9,699.5 L1610.7,701.3 L1611.3,703.1 L1611.7,705.0 L1612.0,706.9 L1612.1,708.9 L1612.1,710.9 L1611.9,712.8 L1611.5,714.8 L1610.9,716.7 L1610.1,718.6 L1609.2,720.4 L1608.2,722.2 L1607.0,723.8 L1605.6,725.4 L1604.1,726.8 L1602.4,728.1 L1600.7,729.3 L1598.8,730.3 L1596.9,731.2 L1594.9,731.8 L1592.8,732.4 L1590.7,732.7 L1588.5,732.8 L1586.3,732.8 L1584.1,732.6 L1582.0,732.1 L1579.8,731.5 L1577.7,730.7 L1575.7,729.8 L1573.8,728.6 L1572.0,727.3 L1570.2,725.8 L1568.7,724.2 L1567.2,722.4 L1565.9,720.5 L1564.8,718.5 L1563.8,716.3 L1563.0,714.1 L1562.4,711.8 L1562.0,709.5 L1561.9,707.1 L1561.9,704.7 L1562.1,702.4 L1562.5,700.0 L1563.2,697.7 L1564.0,695.4 L1565.1,693.2 L1566.3,691.0 L1567.7,689.0 L1569.3,687.1 L1571.1,685.4 L1573.0,683.8" fill="none" stroke="#fff" stroke-width="5.4" stroke-linecap="round"/>
<path d="M921.5,662.1 L957.5,662.1 A51.8,51.8 0 0 1 988.3,693.3 L988.3,728.7 L964.0,753.1 L915.0,753.1 L890.7,728.7 L890.7,693.3 A51.8,51.8 0 0 1 921.5,662.1 Z" fill="#000" stroke="#fff" stroke-width="3.3"/>
<path d="M889.7,733.5 L915.0,759.3 L964.0,759.3 L989.3,733.5" fill="none" stroke="#fff" stroke-width="3.3"/>
<ellipse cx="939.5" cy="707.8" rx="20.6" ry="28.3" fill="none" stroke="#fff" stroke-width="1.6"/>
<path d="M930.7,694.8 C936.7,698.0 938.1,706.0 930.7,711.2 C923.3,706.0 924.7,698.0 930.7,694.8 Z" fill="#fff"/>
<path d="M948.9,694.8 C954.9,698.0 956.3,706.0 948.9,711.2 C941.5,706.0 942.9,698.0 948.9,694.8 Z" fill="#fff"/>
<path d="M921.5,427.8 L957.5,427.8 A51.8,51.8 0 0 1 988.3,459.0 L988.3,494.4 L964.0,518.8 L915.0,518.8 L890.7,494.4 L890.7,459.0 A51.8,51.8 0 0 1 921.5,427.8 Z" fill="#000" stroke="#fff" stroke-width="3.3"/>
<path d="M889.7,499.2 L915.0,525.0 L964.0,525.0 L989.3,499.2" fill="none" stroke="#fff" stroke-width="3.3"/>
<rect x="920.5" y="445" width="37" height="57.5" fill="#fff"/>
<rect x="920.5" y="445" width="2.5" height="57.5" fill="#aaa"/>
<path d="M1245.5,662.1 L1281.5,662.1 A51.8,51.8 0 0 1 1312.3,693.3 L1312.3,728.7 L1288.0,753.1 L1239.0,753.1 L1214.7,728.7 L1214.7,693.3 A51.8,51.8 0 0 1 1245.5,662.1 Z" fill="#000" stroke="#fff" stroke-width="3.3"/>
<path d="M1213.7,733.5 L1239.0,759.3 L1288.0,759.3 L1313.3,733.5" fill="none" stroke="#fff" stroke-width="3.3"/>
<circle cx="1263.5" cy="708.5" r="21.5" fill="#fff"/>
<circle cx="1263.5" cy="708.5" r="13.5" fill="none" stroke="#000" stroke-width="1.5" stroke-dasharray="5 2"/>
<circle cx="1263.5" cy="708.5" r="7.5" fill="#000"/>
<circle cx="1263.5" cy="708.5" r="2" fill="#fff"/>
<path d="M1247.5,696.5 q6,-6 12,-7 M1269.5,690.5 q6,2 9,6 M1245.5,716.5 q2,4 5,6 M1269.5,725.5 q-5,1 -9,-1" fill="none" stroke="#000" stroke-width="1.2"/>
<path d="M1252.0,649.0 L1271.0,668.0 M1276.0,649.0 L1257.0,668.0" stroke="#e2e632" stroke-width="4.6" stroke-linecap="square" fill="none"/>
<path d="M1253.5,650.5 L1262.0,659.0 M1274.5,650.5 L1266.0,659.0 M1267.0,663.0 L1270.0,666.0 M1261.0,663.0 L1258.0,666.0" stroke="#000" stroke-width="1.1" fill="none"/>
<path d="M1265.0,670.0 L1273.0,662.0 M1263.0,670.0 L1255.0,662.0" stroke="#e2e632" stroke-width="2.4" fill="none"/>
<rect x="1272.5" y="669.5" width="4.6" height="4.6" fill="none" stroke="#e2e632" stroke-width="1.8"/><rect x="1250.9" y="669.5" width="4.6" height="4.6" fill="none" stroke="#e2e632" stroke-width="1.8"/>
<path d="M921.5,896.4 L957.5,896.4 A51.8,51.8 0 0 1 988.3,927.6 L988.3,963.0 L964.0,987.4 L915.0,987.4 L890.7,963.0 L890.7,927.6 A51.8,51.8 0 0 1 921.5,896.4 Z" fill="#000" stroke="#fff" stroke-width="3.3"/>
<path d="M889.7,967.8 L915.0,993.6 L964.0,993.6 L989.3,967.8" fill="none" stroke="#fff" stroke-width="3.3"/>
<path d="M913.5,946.0 C911.5,930.0 923.5,918.0 939.5,918.0 C955.5,918.0 967.5,930.0 965.5,946.0 C964.5,954.0 959.5,957.0 955.5,958.0 L953.5,966.0 L925.5,966.0 L923.5,958.0 C919.5,957.0 914.5,954.0 913.5,946.0 Z" fill="#fff"/>
<circle cx="928.0" cy="946.0" r="7.2" fill="#000"/>
<circle cx="951.0" cy="946.0" r="7.2" fill="#000"/>
<path d="M939.5,950.0 L943.0,957.0 L936.0,957.0 Z" fill="#000"/>
<rect x="932.5" y="961.0" width="1.2" height="5.0" fill="#000" />
<rect x="937.0" y="961.0" width="1.2" height="5.0" fill="#000" />
<rect x="941.5" y="961.0" width="1.2" height="5.0" fill="#000" />
<rect x="946.0" y="961.0" width="1.2" height="5.0" fill="#000" />
<path d="M925.5,924.0 L919.5,936.0 M941.5,922.0 l4,4 l-3,3 l5,4 l-2,4" fill="none" stroke="#000" stroke-width="1.4"/>
<path d="M927.5,883.5 L946.5,902.5 M951.5,883.5 L932.5,902.5" stroke="#e2e632" stroke-width="4.6" stroke-linecap="square" fill="none"/>
<path d="M929.0,885.0 L937.5,893.5 M950.0,885.0 L941.5,893.5 M942.5,897.5 L945.5,900.5 M936.5,897.5 L933.5,900.5" stroke="#000" stroke-width="1.1" fill="none"/>
<path d="M940.5,904.5 L948.5,896.5 M938.5,904.5 L930.5,896.5" stroke="#e2e632" stroke-width="2.4" fill="none"/>
<rect x="948.0" y="904.0" width="4.6" height="4.6" fill="none" stroke="#e2e632" stroke-width="1.8"/><rect x="926.4" y="904.0" width="4.6" height="4.6" fill="none" stroke="#e2e632" stroke-width="1.8"/>
<path d="M650.6,429.3 L797.6,429.3 L804.5,436 L804.5,514 L798,525.5 L649,525.5" fill="#000" stroke="#fff" stroke-width="3.6"/>
<path d="M774,431 L800,431 L803,437 L803,448 L796,444 L786,437 L774,433 Z" fill="#fff"/>
<path d="M652,432 L669,457 L669,502 L652,522" fill="none" stroke="#fff" stroke-width="3"/>
<rect x="648" y="514.5" width="152" height="9" fill="url(#chk2)"/>
<path d="M806,469 h5.5 v3 h-5.5z M806,482 h5.5 v3 h-5.5z" fill="#fff"/>
<circle cx="699" cy="530" r="1.6" fill="#fff"/>
<text x="677.0" y="480.5" font-family="Liberation Mono" font-size="15" font-weight="bold" fill="#fff" stroke="#fff" stroke-width="0.8" stroke-linejoin="miter" letter-spacing="3.75" text-anchor="start" >Nightmare</text>
<path d="M596,432 L634,432 L667,462.5 L667,502 L641,527 L590,527 L564,502 L564,462.5 Z" fill="#fff"/>
<defs><pattern id="dots" x="0" y="0" width="4.6" height="4.6" patternUnits="userSpaceOnUse"><rect width="4.6" height="4.6" fill="#fff"/><rect width="2.3" height="2.3" fill="#000"/></pattern></defs>
<path d="M567,461 L596,434 L601.5,440 L572.5,467 Z M634,434 L663,461 L657.5,467 L628.5,440 Z" fill="url(#dots)"/>
<path d="M587.5,483.0 C585.5,467.0 597.5,455.0 613.5,455.0 C629.5,455.0 641.5,467.0 639.5,483.0 C638.5,491.0 633.5,494.0 629.5,495.0 L627.5,503.0 L599.5,503.0 L597.5,495.0 C593.5,494.0 588.5,491.0 587.5,483.0 Z" fill="#000"/>
<circle cx="602.0" cy="483.0" r="7.2" fill="#fff"/>
<circle cx="625.0" cy="483.0" r="7.2" fill="#fff"/>
<path d="M613.5,487.0 L617.0,494.0 L610.0,494.0 Z" fill="#fff"/>
<rect x="606.5" y="498.0" width="1.2" height="5.0" fill="#fff" />
<rect x="611.0" y="498.0" width="1.2" height="5.0" fill="#fff" />
<rect x="615.5" y="498.0" width="1.2" height="5.0" fill="#fff" />
<rect x="620.0" y="498.0" width="1.2" height="5.0" fill="#fff" />
<path d="M599.5,461.0 L593.5,473.0 M615.5,459.0 l4,4 l-3,3 l5,4 l-2,4" fill="none" stroke="#fff" stroke-width="1.4"/>
<path d="M581,487 L601,506 L592,513 L579,514 L576,505 Z" fill="#000"/>
<path d="M580,500 l6,6 l5,0" fill="none" stroke="#bbb" stroke-width="1"/>
<path d="M603.0,413.0 L622.0,432.0 M627.0,413.0 L608.0,432.0" stroke="#e2e632" stroke-width="4.6" stroke-linecap="square" fill="none"/>
<path d="M604.5,414.5 L613.0,423.0 M625.5,414.5 L617.0,423.0 M618.0,427.0 L621.0,430.0 M612.0,427.0 L609.0,430.0" stroke="#000" stroke-width="1.1" fill="none"/>
<path d="M616.0,434.0 L624.0,426.0 M614.0,434.0 L606.0,426.0" stroke="#e2e632" stroke-width="2.4" fill="none"/>
<rect x="623.5" y="433.5" width="4.6" height="4.6" fill="none" stroke="#e2e632" stroke-width="1.8"/><rect x="601.9" y="433.5" width="4.6" height="4.6" fill="none" stroke="#e2e632" stroke-width="1.8"/>
<circle cx="549" cy="484" r="2" fill="#fff"/><circle cx="556" cy="491" r="2" fill="#fff"/>
<path d="M250,660 L330,660 L336,676 L300,674 L262,676 L250,680 Z" fill="#000"/>
<path d="M238.3,636.5 L247.4,630.3 L253,626.8 L259.2,623.7 L279.3,623.7 L284.9,627.2 L289.7,630 L298,634.4 L303.6,638 L305.3,642.8 L302.2,647.6 L296,652 L313.3,659.4 L325.8,666.4 L334.2,672 L339.7,680.3 L330,675.4 L320.3,672 L306.4,670.6 L295.3,672 L278.6,672.6 L278.6,669 L268,667 L263.3,667 L254.3,667 L248,651 Z" fill="#fff"/>
<path d="M262,630 L280,628 L292,634 L300,641 L297,648 L288,654 L279,660 L270,663 L266,656 L264,645 Z" fill="#000"/>
<circle cx="282.8" cy="651.5" r="10" fill="none" stroke="#fff" stroke-width="1.6" stroke-dasharray="2.5 1.5"/>
<rect x="280" y="648.5" width="5.2" height="5.2" fill="#fff"/>
<path d="M248,631 L258,627 L265,640 L263,652 L256,648 Z" fill="url(#dots)"/>
<path d="M296,655 L312,661 L324,668 L318,669 L300,666 L292,664 Z" fill="url(#dots)"/>
<path d="M270,646 L276,660 L274,664 L268,650 Z" fill="#fff"/>
<rect x="52.0" y="774.5" width="65.5" height="61.5" fill="none" stroke="#eee" stroke-width="3" stroke-dasharray="6 2 3 2"/>
<path d="M63,777.5 H105 L113,785.5 V825 L105,833 H63 L55,825 V785.5 Z" fill="#fff"/>
<path d="M55,785.5 L63,777.5 L63,782 L59.5,785.5 Z M113,785.5 L105,777.5 L105,782 L108.5,785.5 Z M55,825 L63,833 L63,828.5 L59.5,825 Z M113,825 L105,833 L105,828.5 L108.5,825 Z" fill="url(#dots)"/>
<path d="M64,789 L77,793 L80,800 V826 L72,822 L64,820 Z M92,789 L104.7,795 V826 L96,822 L92,818 Z" fill="#000"/>
<rect x="78" y="795" width="14" height="28" fill="url(#chk2)"/>
<circle cx="70" cy="803" r="3" fill="none" stroke="#fff" stroke-width="1.4"/>
<path d="M96,801 V812 M93,812 h6 M96,801 h6" stroke="#fff" stroke-width="1.6"/>
<rect x="50.3" y="868.3" width="69.4" height="65.20000000000005" fill="none" stroke="#eee" stroke-width="3" stroke-dasharray="6 2 3 2"/>
<rect x="54.3" y="872.3" width="61.400000000000006" height="57.200000000000045" fill="none" stroke="#fff" stroke-width="2.2"/>
<rect x="48.8" y="937.5" width="72.4" height="3.0" fill="#ddd" />
<path d="M77,884 C77,879 90,879 90,884 L91,906 C91,916 86,922 84,922 C80,922 76,916 76,906 Z" fill="#fff"/>
<path d="M81,893 L87,893 L87,912 C87,916 81,916 81,912 Z" fill="#000"/>
<circle cx="81" cy="886" r="1.3" fill="#000"/><circle cx="87" cy="886" r="1.3" fill="#000"/><rect x="83.5" y="889" width="1.3" height="2.5" fill="#000"/>
<rect x="50.3" y="968.8" width="69.4" height="65.70000000000005" fill="none" stroke="#eee" stroke-width="3" stroke-dasharray="6 2 3 2"/>
<rect x="54.3" y="972.8" width="61.400000000000006" height="57.700000000000045" fill="none" stroke="#fff" stroke-width="2.2"/>
<rect x="48.8" y="1038.5" width="72.4" height="3.0" fill="#ddd" />
<rect x="79.5" y="978.7" width="10" height="10" rx="2" fill="#fff" transform="rotate(22.5 84.5 1001.2)"/><rect x="79.5" y="978.7" width="10" height="10" rx="2" fill="#fff" transform="rotate(67.5 84.5 1001.2)"/><rect x="79.5" y="978.7" width="10" height="10" rx="2" fill="#fff" transform="rotate(112.5 84.5 1001.2)"/><rect x="79.5" y="978.7" width="10" height="10" rx="2" fill="#fff" transform="rotate(157.5 84.5 1001.2)"/><rect x="79.5" y="978.7" width="10" height="10" rx="2" fill="#fff" transform="rotate(202.5 84.5 1001.2)"/><rect x="79.5" y="978.7" width="10" height="10" rx="2" fill="#fff" transform="rotate(247.5 84.5 1001.2)"/><rect x="79.5" y="978.7" width="10" height="10" rx="2" fill="#fff" transform="rotate(292.5 84.5 1001.2)"/><rect x="79.5" y="978.7" width="10" height="10" rx="2" fill="#fff" transform="rotate(337.5 84.5 1001.2)"/>
<circle cx="84.5" cy="1001.2" r="16" fill="#fff"/><circle cx="84.5" cy="1001.2" r="7.5" fill="#000"/>
</svg>
</body></html>
